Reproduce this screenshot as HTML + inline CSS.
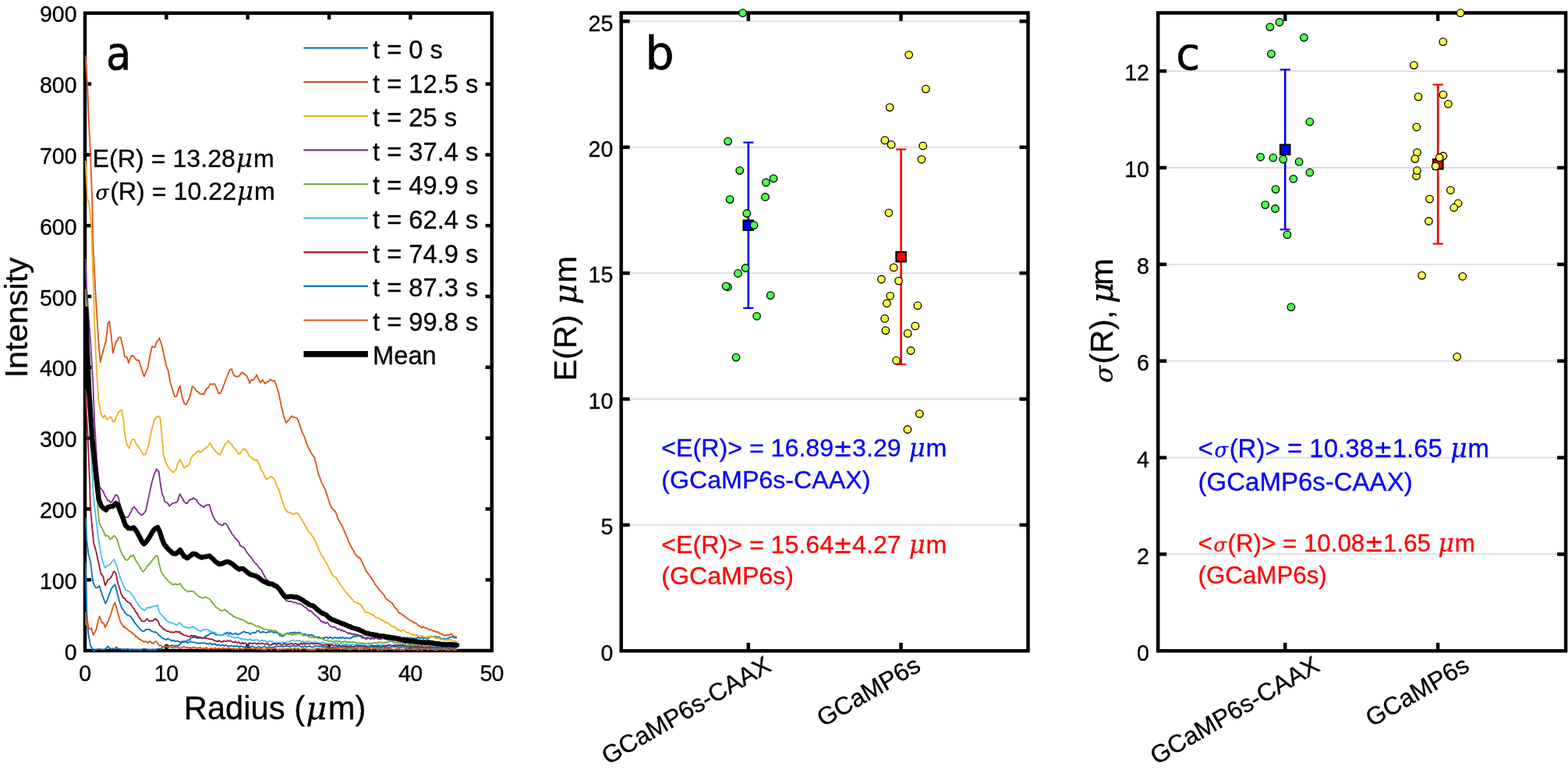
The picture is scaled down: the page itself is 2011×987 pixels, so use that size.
<!DOCTYPE html>
<html lang="en"><head><meta charset="utf-8"><title>Figure</title>
<style>html,body{margin:0;padding:0;background:#fff;}svg{display:block;}</style></head><body>
<svg width="2011" height="987" viewBox="0 0 2011 987" role="img" aria-label="Figure with panels a, b and c">
<rect x="0" y="0" width="2011" height="987" fill="#fff"/>
<g id="panel-a">
<clipPath id="clipA"><rect x="106.8" y="16.8" width="523.8" height="819.7"/></clipPath>
<rect x="109" y="16.8" width="521.8" height="817.2" fill="none" stroke="#000" stroke-width="4.5"/>
<text x="108.7" y="873.2" font-family="'Liberation Sans',sans-serif" font-size="28.6" text-anchor="middle" fill="#000" letter-spacing="-0.8" stroke="#000" stroke-width="0.3">0</text>
<line x1="213.4" y1="834" x2="213.4" y2="825.8" stroke="#000" stroke-width="4.5" stroke-linecap="butt"/>
<line x1="213.4" y1="16.8" x2="213.4" y2="25" stroke="#000" stroke-width="4.5" stroke-linecap="butt"/>
<text x="213.2" y="873.2" font-family="'Liberation Sans',sans-serif" font-size="28.6" text-anchor="middle" fill="#000" letter-spacing="-0.8" stroke="#000" stroke-width="0.3">10</text>
<line x1="317.7" y1="834" x2="317.7" y2="825.8" stroke="#000" stroke-width="4.5" stroke-linecap="butt"/>
<line x1="317.7" y1="16.8" x2="317.7" y2="25" stroke="#000" stroke-width="4.5" stroke-linecap="butt"/>
<text x="317.5" y="873.2" font-family="'Liberation Sans',sans-serif" font-size="28.6" text-anchor="middle" fill="#000" letter-spacing="-0.8" stroke="#000" stroke-width="0.3">20</text>
<line x1="422.1" y1="834" x2="422.1" y2="825.8" stroke="#000" stroke-width="4.5" stroke-linecap="butt"/>
<line x1="422.1" y1="16.8" x2="422.1" y2="25" stroke="#000" stroke-width="4.5" stroke-linecap="butt"/>
<text x="421.9" y="873.2" font-family="'Liberation Sans',sans-serif" font-size="28.6" text-anchor="middle" fill="#000" letter-spacing="-0.8" stroke="#000" stroke-width="0.3">30</text>
<line x1="526.4" y1="834" x2="526.4" y2="825.8" stroke="#000" stroke-width="4.5" stroke-linecap="butt"/>
<line x1="526.4" y1="16.8" x2="526.4" y2="25" stroke="#000" stroke-width="4.5" stroke-linecap="butt"/>
<text x="526.2" y="873.2" font-family="'Liberation Sans',sans-serif" font-size="28.6" text-anchor="middle" fill="#000" letter-spacing="-0.8" stroke="#000" stroke-width="0.3">40</text>
<text x="630.6" y="873.2" font-family="'Liberation Sans',sans-serif" font-size="28.6" text-anchor="middle" fill="#000" letter-spacing="-0.8" stroke="#000" stroke-width="0.3">50</text>
<text x="98.6" y="845.6" font-family="'Liberation Sans',sans-serif" font-size="28.6" text-anchor="end" fill="#000" stroke="#000" stroke-width="0.3">0</text>
<line x1="109" y1="743.2" x2="117.2" y2="743.2" stroke="#000" stroke-width="4.5" stroke-linecap="butt"/>
<line x1="630.8" y1="743.2" x2="622.6" y2="743.2" stroke="#000" stroke-width="4.5" stroke-linecap="butt"/>
<text x="98.6" y="754.8" font-family="'Liberation Sans',sans-serif" font-size="28.6" text-anchor="end" fill="#000" stroke="#000" stroke-width="0.3">100</text>
<line x1="109" y1="652.4" x2="117.2" y2="652.4" stroke="#000" stroke-width="4.5" stroke-linecap="butt"/>
<line x1="630.8" y1="652.4" x2="622.6" y2="652.4" stroke="#000" stroke-width="4.5" stroke-linecap="butt"/>
<text x="98.6" y="664" font-family="'Liberation Sans',sans-serif" font-size="28.6" text-anchor="end" fill="#000" stroke="#000" stroke-width="0.3">200</text>
<line x1="109" y1="561.6" x2="117.2" y2="561.6" stroke="#000" stroke-width="4.5" stroke-linecap="butt"/>
<line x1="630.8" y1="561.6" x2="622.6" y2="561.6" stroke="#000" stroke-width="4.5" stroke-linecap="butt"/>
<text x="98.6" y="573.2" font-family="'Liberation Sans',sans-serif" font-size="28.6" text-anchor="end" fill="#000" stroke="#000" stroke-width="0.3">300</text>
<line x1="109" y1="470.8" x2="117.2" y2="470.8" stroke="#000" stroke-width="4.5" stroke-linecap="butt"/>
<line x1="630.8" y1="470.8" x2="622.6" y2="470.8" stroke="#000" stroke-width="4.5" stroke-linecap="butt"/>
<text x="98.6" y="482.4" font-family="'Liberation Sans',sans-serif" font-size="28.6" text-anchor="end" fill="#000" stroke="#000" stroke-width="0.3">400</text>
<line x1="109" y1="380" x2="117.2" y2="380" stroke="#000" stroke-width="4.5" stroke-linecap="butt"/>
<line x1="630.8" y1="380" x2="622.6" y2="380" stroke="#000" stroke-width="4.5" stroke-linecap="butt"/>
<text x="98.6" y="391.6" font-family="'Liberation Sans',sans-serif" font-size="28.6" text-anchor="end" fill="#000" stroke="#000" stroke-width="0.3">500</text>
<line x1="109" y1="289.2" x2="117.2" y2="289.2" stroke="#000" stroke-width="4.5" stroke-linecap="butt"/>
<line x1="630.8" y1="289.2" x2="622.6" y2="289.2" stroke="#000" stroke-width="4.5" stroke-linecap="butt"/>
<text x="98.6" y="300.8" font-family="'Liberation Sans',sans-serif" font-size="28.6" text-anchor="end" fill="#000" stroke="#000" stroke-width="0.3">600</text>
<line x1="109" y1="198.4" x2="117.2" y2="198.4" stroke="#000" stroke-width="4.5" stroke-linecap="butt"/>
<line x1="630.8" y1="198.4" x2="622.6" y2="198.4" stroke="#000" stroke-width="4.5" stroke-linecap="butt"/>
<text x="98.6" y="210" font-family="'Liberation Sans',sans-serif" font-size="28.6" text-anchor="end" fill="#000" stroke="#000" stroke-width="0.3">700</text>
<line x1="109" y1="107.6" x2="117.2" y2="107.6" stroke="#000" stroke-width="4.5" stroke-linecap="butt"/>
<line x1="630.8" y1="107.6" x2="622.6" y2="107.6" stroke="#000" stroke-width="4.5" stroke-linecap="butt"/>
<text x="98.6" y="119.2" font-family="'Liberation Sans',sans-serif" font-size="28.6" text-anchor="end" fill="#000" stroke="#000" stroke-width="0.3">800</text>
<text x="98.6" y="28.4" font-family="'Liberation Sans',sans-serif" font-size="28.6" text-anchor="end" fill="#000" stroke="#000" stroke-width="0.3">900</text>
<g clip-path="url(#clipA)">
<path d="M109.7,720.9 109.8,722.8 109.8,724.2 109.8,725.4 109.9,727.1 109.9,728.6 109.9,730.2 110.0,731.9 110.0,732.9 110.0,734.3 110.1,736.4 110.1,737.7 110.1,739.4 110.2,740.4 110.2,742.2 110.3,744.0 110.3,745.1 110.3,747.2 110.4,748.6 110.4,749.5 110.4,751.1 110.5,752.9 110.5,754.7 110.5,755.9 110.6,757.3 110.6,758.9 110.6,760.2 110.7,761.8 110.7,763.5 110.7,765.1 110.8,766.4 110.8,767.9 110.9,769.4 110.9,771.1 110.9,772.5 111.0,773.8 111.0,775.9 111.0,777.3 111.1,778.8 111.1,780.0 111.1,781.9 111.2,783.6 111.3,784.5 111.4,786.2 111.5,788.0 111.6,789.5 111.7,791.2 111.8,792.3 111.9,794.2 112.1,795.6 112.2,796.8 112.3,798.5 112.4,800.3 112.5,801.8 112.6,803.0 112.7,804.6 112.8,805.7 112.9,807.4 113.0,809.3 113.1,810.6 113.2,812.0 113.5,813.8 113.8,815.5 114.1,817.1 114.4,818.5 114.7,820.2 115.0,821.9 115.3,823.7 115.6,825.1 115.9,826.7 116.2,828.3 117.2,829.5 118.2,831.2 119.2,833.7 121.0,834.3 122.8,833.1 124.6,832.4 126.3,832.0 128.4,832.2 130.4,832.6 132.4,832.8 134.4,832.4 135.8,831.7 137.1,829.3 138.5,828.4 139.8,830.4 141.2,830.9 142.5,832.0 144.2,831.1 145.8,831.5 147.4,832.1 149.0,829.5 150.6,830.7 152.3,831.5 154.0,832.0 155.7,832.0 157.4,832.5 159.1,832.1 160.8,832.5 162.6,832.3 164.5,831.5 166.3,833.5 168.2,832.8 169.7,832.1 171.2,832.8 172.8,832.9 174.3,832.6 175.8,832.6 177.4,833.1 178.9,833.2 180.5,833.2 182.0,832.7 183.5,831.6 185.1,831.9 186.6,831.7 188.1,832.5 189.7,832.6 191.2,833.0 192.8,833.2 194.3,833.3 195.8,832.1 197.4,833.7 198.9,833.4 200.4,832.6 202.2,831.7 204.0,831.3 205.8,832.4 207.6,830.4 209.4,829.0 211.2,829.5 213.0,828.5 214.8,828.1 216.6,827.6 218.4,828.2 220.2,827.1 222.0,827.4 223.8,828.2 225.6,827.6 227.4,827.3 229.1,827.7 230.3,825.7 231.5,825.1 232.7,824.0 234.5,822.8 236.3,822.0 238.1,822.8 239.5,821.7 240.8,820.4 242.2,820.5 243.5,820.0 244.8,817.9 246.2,817.3 247.5,816.9 248.9,817.2 250.7,816.4 252.5,818.0 254.3,818.1 256.1,817.7 257.8,816.7 259.6,818.3 261.4,817.3 262.8,816.3 264.1,815.0 265.5,815.3 266.8,814.2 268.6,813.1 270.4,811.4 271.9,812.1 273.4,810.9 274.9,811.9 276.4,813.6 277.9,813.8 279.4,813.1 281.2,814.5 283.0,813.7 284.7,814.3 286.5,813.3 288.2,812.0 290.0,811.3 291.8,810.5 293.6,812.7 295.4,810.8 297.2,812.8 299.0,812.7 300.8,812.4 302.6,811.5 304.3,813.3 306.1,813.0 307.6,812.4 309.0,811.4 310.4,810.6 311.9,810.0 313.3,809.5 314.8,810.8 316.2,810.8 317.6,810.9 319.1,811.3 320.5,813.0 322.0,811.8 323.5,811.6 325.0,810.6 326.5,811.3 328.0,810.7 329.5,808.7 331.0,808.7 332.5,809.2 333.9,810.9 335.4,810.6 336.9,809.8 338.4,810.0 339.9,810.6 341.4,810.8 342.9,810.8 344.4,809.2 345.9,810.3 347.4,809.5 349.2,809.7 351.0,811.3 352.8,810.0 354.6,811.3 356.0,811.1 357.4,812.2 358.9,814.7 360.3,814.2 361.7,816.0 363.1,815.1 364.4,814.8 365.8,813.0 367.1,812.3 368.9,811.4 370.7,812.2 372.5,811.1 374.3,810.8 376.1,811.6 377.9,810.3 379.7,811.6 381.5,810.8 383.3,810.7 385.1,811.0 386.9,812.5 388.4,813.1 389.9,813.5 391.3,812.6 392.8,813.6 394.3,814.3 395.8,813.8 397.3,814.4 398.8,814.0 400.3,814.0 401.8,814.8 403.3,816.6 404.8,816.1 406.3,817.4 407.8,816.6 409.3,816.4 410.8,817.9 412.3,818.3 413.8,817.3 415.6,818.2 417.4,816.7 419.1,816.7 420.9,818.5 422.7,816.9 424.5,817.0 426.3,818.9 428.1,817.7 429.9,817.1 431.7,817.8 433.2,817.4 434.7,818.4 436.2,816.6 437.7,818.3 439.2,816.9 440.7,817.5 442.5,818.4 444.3,817.4 446.1,817.7 447.8,818.7 449.3,817.3 450.7,818.0 452.2,816.1 453.6,815.5 455.0,816.6 456.8,815.3 458.6,815.7 460.4,815.1 462.2,815.0 464.0,814.7 465.8,816.5 467.6,817.7 469.4,818.2 471.2,816.8 473.0,817.9 474.8,818.3 476.5,819.1 478.3,817.9 480.1,818.1 481.9,817.7 483.5,817.0 485.0,817.7 486.5,817.2 488.1,817.1 489.6,816.7 491.2,817.3 492.7,818.4 494.2,817.4 495.7,817.6 497.2,817.3 498.7,817.7 500.2,816.1 501.7,815.8 503.2,815.9 504.6,816.1 506.1,817.6 507.6,817.9 509.1,816.8 510.6,817.3 512.4,817.7 514.2,817.8 516.0,817.9 517.8,817.2 519.6,817.3 521.1,817.4 522.6,817.1 524.1,818.4 525.6,817.4 527.1,817.6 528.6,818.9 530.1,818.0 531.6,819.0 533.0,818.1 534.5,818.8 536.0,816.9 537.5,817.5 539.3,818.3 541.1,816.8 542.9,819.0 544.7,817.3 546.5,818.5 548.0,818.9 549.5,818.1 551.0,816.5 552.5,815.6 554.0,816.1 555.5,816.2 557.0,815.6 558.5,817.3 560.0,815.9 561.4,818.1 562.9,816.4 564.4,817.6 566.2,818.9 568.0,818.7 569.8,819.0 571.6,819.0 573.4,818.5 575.2,818.2 577.0,816.6 578.8,816.7 580.6,816.0 582.4,817.3 584.2,817.5 586.0,817.5" fill="none" stroke="#0072BD" stroke-width="1.8" stroke-linejoin="round" stroke-linecap="butt"/>
<path d="M109.5,71.3 109.6,73.0 109.7,73.9 109.8,75.4 109.9,77.5 110.0,78.9 110.1,80.4 110.2,81.6 110.3,83.4 110.4,84.9 110.5,86.4 110.6,87.6 110.7,89.3 110.8,90.8 110.9,92.6 111.0,94.3 111.1,95.8 111.2,97.0 111.3,98.4 111.4,99.8 111.5,101.2 111.6,102.7 111.7,104.5 111.8,105.9 111.9,107.5 112.1,109.4 112.2,110.6 112.2,112.2 112.3,113.5 112.3,114.8 112.4,116.6 112.4,118.0 112.5,119.8 112.6,121.6 112.6,122.9 112.7,124.1 112.7,126.1 112.8,127.6 112.8,129.0 112.9,130.7 113.0,132.1 113.0,133.6 113.1,134.8 113.1,136.8 113.2,138.3 113.3,139.2 113.3,141.2 113.4,142.7 113.4,144.0 113.5,145.6 113.5,147.1 113.6,148.9 113.7,150.1 113.7,151.9 113.8,153.1 113.8,155.0 113.9,156.5 114.0,157.7 114.1,159.3 114.2,161.1 114.2,162.4 114.3,163.8 114.4,165.1 114.5,166.7 114.5,168.5 114.6,169.6 114.7,171.7 114.8,172.7 114.8,174.7 114.9,175.8 115.0,177.8 115.1,179.1 115.1,180.5 115.2,182.0 115.3,183.7 115.4,185.1 115.4,186.4 115.5,187.9 115.6,189.6 115.7,191.5 115.7,192.7 115.8,193.9 115.9,195.9 116.0,197.4 116.1,199.0 116.1,200.0 116.2,201.9 116.3,203.0 116.3,204.9 116.4,206.2 116.4,207.7 116.5,209.6 116.5,210.6 116.6,212.4 116.6,214.2 116.7,215.3 116.7,216.8 116.8,218.8 116.8,219.9 116.9,221.7 116.9,222.7 117.0,224.5 117.1,225.8 117.1,227.7 117.2,228.8 117.2,231.0 117.3,231.8 117.3,233.8 117.4,234.8 117.4,236.5 117.5,238.5 117.5,239.5 117.6,241.0 117.6,242.9 117.7,244.2 117.7,245.5 117.8,247.7 117.9,248.6 117.9,250.0 118.0,251.8 118.0,253.5 118.1,255.1 118.1,256.2 118.2,257.9 118.2,259.3 118.3,261.0 118.3,262.7 118.3,264.2 118.3,265.8 118.4,267.2 118.4,268.8 118.4,270.2 118.5,271.5 118.5,272.9 118.5,274.7 118.6,275.9 118.6,277.3 118.6,279.1 118.6,280.9 118.7,281.8 118.7,283.7 118.7,285.0 118.8,286.6 118.8,287.9 118.8,290.0 118.9,291.0 118.9,292.7 118.9,294.1 118.9,295.3 119.0,297.2 119.0,298.4 119.0,299.9 119.1,301.4 119.1,303.0 119.1,304.4 119.2,306.3 119.2,307.7 119.2,309.6 119.2,310.9 119.3,312.6 119.4,313.6 119.5,315.3 119.5,316.7 119.6,318.4 119.7,320.0 119.8,321.6 119.8,323.1 119.9,324.3 120.0,325.9 120.1,327.5 120.2,328.6 120.2,330.2 120.3,332.0 120.4,333.3 120.5,335.2 120.5,336.4 120.6,337.8 120.7,339.4 120.8,340.9 120.8,342.5 120.9,344.2 121.0,345.7 121.1,347.1 121.1,348.8 121.2,350.0 121.3,352.1 121.4,353.6 121.4,355.0 121.5,356.3 121.6,357.9 121.7,359.4 121.7,360.6 121.8,362.3 121.9,363.9 122.0,365.2 122.1,366.7 122.1,368.7 122.2,369.9 122.3,371.5 122.4,373.4 122.5,374.7 122.6,376.0 122.6,378.0 122.7,379.1 122.8,380.4 122.9,382.4 123.0,383.5 123.1,385.2 123.2,387.1 123.3,388.5 123.4,389.6 123.5,391.4 123.6,392.9 123.7,394.5 123.8,395.9 123.8,397.7 123.9,398.8 124.0,400.5 124.1,402.1 124.2,404.1 124.3,405.0 124.4,407.0 124.5,408.1 124.6,409.9 124.7,411.3 124.8,412.9 124.9,414.7 124.9,415.9 125.0,417.3 125.1,418.8 125.2,420.3 125.3,422.3 125.4,423.8 125.5,425.5 125.7,426.8 125.8,427.9 125.9,429.9 126.0,431.5 126.1,432.9 126.2,434.3 126.3,435.7 126.4,437.3 126.6,439.1 126.7,440.2 126.8,441.9 126.9,443.4 127.0,445.3 127.1,446.7 127.2,448.3 127.3,449.6 127.5,451.0 127.6,452.5 127.8,454.3 127.9,455.7 128.1,457.5 128.2,459.3 128.4,461.0 128.5,462.4 128.7,464.1 129.1,462.2 129.4,460.9 129.8,459.9 130.2,457.8 130.6,456.6 130.9,454.8 131.3,453.4 131.7,452.5 132.1,451.1 132.4,449.4 132.8,447.6 133.2,446.3 133.6,444.7 134.1,443.5 134.5,442.0 135.0,440.3 135.4,438.9 135.9,437.3 136.1,435.9 136.2,434.6 136.4,432.9 136.6,430.9 136.8,429.6 137.0,428.2 137.1,426.3 137.3,425.2 137.5,423.4 137.7,422.0 137.8,420.2 138.0,419.1 138.2,417.4 138.4,415.7 138.6,413.8 140.4,411.9 140.6,413.2 140.7,415.1 140.9,416.9 141.1,418.0 141.3,419.8 141.5,421.3 141.7,422.8 141.9,424.6 142.1,426.3 142.3,427.7 142.5,429.1 142.7,431.0 142.9,432.1 143.0,433.9 143.2,435.5 143.3,437.1 143.5,438.8 143.6,439.9 143.8,441.7 143.9,443.2 144.1,444.9 144.2,446.7 144.4,448.0 144.5,449.2 144.7,451.1 144.8,452.7 145.2,451.4 145.6,449.8 146.0,448.4 146.4,446.3 146.8,445.5 147.2,443.8 147.6,442.3 148.0,441.0 148.4,439.4 149.3,437.2 150.2,436.7 151.1,435.2 152.0,433.1 152.9,432.3 154.7,432.4 155.1,433.8 155.5,435.8 155.9,437.0 156.2,438.9 156.6,440.4 157.0,441.9 157.4,443.7 157.7,445.1 158.0,446.5 158.3,448.5 158.6,449.3 158.9,450.8 159.2,452.6 159.5,454.4 159.8,455.7 160.1,457.4 162.8,458.0 163.3,459.9 163.9,461.5 164.4,463.2 164.9,465.2 165.5,463.3 166.0,461.7 166.5,460.6 167.1,458.6 167.6,457.5 168.2,456.0 170.0,456.0 171.7,456.9 172.6,458.5 173.5,459.9 174.4,460.3 175.3,461.8 178.0,461.6 178.5,463.0 178.9,464.4 179.4,465.6 179.8,467.5 180.3,469.2 180.7,470.3 181.2,471.8 181.6,473.2 182.2,474.8 182.7,476.7 183.2,477.8 183.8,479.6 184.3,481.0 184.8,482.6 185.4,481.5 186.1,479.2 186.7,478.4 187.3,476.4 187.9,475.2 188.5,473.9 189.1,472.2 189.7,470.5 190.0,469.3 190.2,467.2 190.5,466.1 190.8,464.4 191.0,463.0 191.3,461.7 191.6,460.1 191.8,458.5 192.1,456.7 192.4,455.2 192.8,453.7 193.1,452.0 193.5,450.4 193.9,449.3 194.3,447.1 194.7,446.0 195.1,444.1 196.9,444.5 198.7,445.4 199.1,443.6 199.6,442.3 200.0,440.5 200.4,439.2 201.4,437.4 202.4,436.8 203.4,435.3 204.4,433.3 204.9,435.0 205.5,436.8 206.0,437.9 206.5,439.3 207.1,441.0 207.6,442.7 207.9,444.4 208.3,445.6 208.6,447.1 208.9,448.9 209.2,450.0 209.5,451.9 209.8,453.2 210.2,454.5 210.5,456.3 210.8,457.4 211.1,459.3 211.4,460.8 211.7,462.0 212.1,463.6 212.4,465.3 212.7,466.6 213.0,468.0 213.5,469.6 214.1,471.1 214.6,472.4 215.2,474.0 215.7,475.0 216.0,476.7 216.2,478.2 216.5,479.5 216.8,481.1 217.0,482.5 217.3,484.5 217.6,485.6 217.8,487.2 218.1,489.1 218.4,490.2 218.8,492.1 219.3,492.9 219.7,494.3 220.2,496.0 220.6,497.5 221.1,499.3 221.5,500.7 222.0,502.1 222.4,503.3 222.9,504.8 223.3,506.1 223.8,508.1 226.5,508.0 226.9,506.3 227.4,504.9 227.8,503.0 228.3,501.5 228.7,500.3 229.1,498.2 230.0,496.2 230.9,494.7 231.2,496.2 231.5,497.9 231.8,499.4 232.1,501.1 232.4,502.6 232.7,504.2 233.0,506.0 233.3,507.4 233.6,509.1 234.2,511.0 234.7,512.0 235.2,513.7 235.8,515.9 236.3,517.1 239.0,518.6 239.7,516.7 240.3,515.6 240.9,514.4 241.6,512.5 242.2,511.4 242.9,509.8 243.5,508.2 243.9,507.0 244.3,504.9 244.7,503.3 245.1,501.8 245.5,499.9 245.9,498.7 246.3,496.9 246.7,495.2 248.3,496.4 249.8,497.8 251.1,500.0 252.5,501.4 253.8,502.2 255.2,503.3 256.5,504.8 257.8,505.4 259.6,504.8 261.4,505.8 262.1,503.6 262.8,502.8 263.5,501.0 264.1,499.7 265.5,497.5 266.8,497.4 267.6,496.5 268.4,494.2 269.2,493.0 270.0,492.0 272.2,493.0 273.8,492.0 275.4,492.4 276.1,493.3 276.9,495.7 277.6,496.7 278.1,497.8 278.7,500.0 279.2,501.0 279.7,502.7 280.3,504.4 283.0,503.6 283.6,502.3 284.2,500.4 284.8,499.0 285.4,498.2 285.9,496.6 286.5,494.8 287.1,493.5 287.7,492.1 288.3,490.0 288.9,488.8 289.5,487.0 290.1,485.7 290.7,484.0 291.3,482.5 291.8,480.9 292.4,479.5 292.9,478.1 293.5,476.8 294.1,475.5 294.6,474.1 297.0,473.0 297.5,474.6 298.0,476.5 298.6,477.6 299.1,479.2 300.3,481.2 301.5,482.0 302.7,482.6 304.5,482.5 306.3,482.5 307.4,481.1 308.5,479.6 309.6,478.1 310.8,477.1 312.3,478.7 313.8,479.6 315.2,480.8 316.6,482.3 317.9,484.5 318.5,486.5 319.1,487.6 319.7,489.7 320.3,491.3 321.0,489.9 321.7,487.7 322.4,486.8 325.1,487.1 325.9,485.5 326.7,484.6 327.5,483.3 328.3,482.0 329.1,480.6 329.8,482.4 330.6,484.0 331.4,485.6 332.3,487.7 333.2,489.2 334.1,490.6 335.4,488.9 336.8,487.0 337.7,488.3 338.6,489.6 339.5,491.7 341.3,490.6 343.0,489.2 344.2,489.0 345.4,487.8 346.6,486.2 348.0,487.1 349.3,488.3 352.0,487.8 352.9,490.4 353.8,492.2 354.3,493.4 354.7,495.3 355.2,496.5 355.6,497.9 356.1,499.3 356.5,501.0 357.0,502.3 357.4,503.8 357.7,505.0 358.0,506.9 358.3,508.1 358.6,510.0 358.9,511.0 359.2,512.6 359.5,514.3 359.8,515.6 360.1,517.2 360.4,519.0 360.7,520.0 361.0,521.8 361.4,523.4 361.8,525.1 362.2,526.4 362.6,528.0 363.0,529.6 363.4,531.3 363.8,532.7 364.2,534.2 364.6,536.0 365.2,537.3 365.7,539.0 366.3,540.6 366.9,541.8 368.2,540.1 369.5,539.4 370.9,538.1 371.9,535.9 373.0,534.8 374.1,533.2 375.6,534.6 377.1,534.8 379.8,535.4 381.2,536.7 382.5,538.9 383.0,540.1 383.4,541.4 383.9,543.5 384.3,544.5 384.8,546.1 385.2,547.6 385.1,546.5 385.6,548.4 386.1,549.7 386.7,551.4 387.2,553.0 387.8,554.9 388.4,555.5 389.1,557.5 389.8,558.3 390.4,560.0 391.0,561.8 391.5,563.2 392.1,564.6 392.6,566.6 393.1,568.4 393.9,569.9 394.6,571.4 395.3,573.3 396.0,575.0 396.7,576.0 397.6,577.6 398.5,579.9 399.4,581.4 400.3,582.3 401.3,584.0 402.3,585.5 403.4,586.1 403.8,587.9 404.1,589.4 404.5,590.8 404.9,592.5 405.3,594.0 405.7,596.0 406.1,597.4 406.5,599.4 406.8,600.9 407.2,602.6 407.6,604.6 408.0,605.9 408.4,607.6 408.9,609.0 409.5,610.3 410.0,611.7 410.5,613.4 411.1,614.9 411.7,616.0 412.4,618.4 413.1,619.7 413.8,620.8 414.5,622.7 415.2,623.8 415.9,625.4 416.6,626.4 417.4,628.3 417.9,629.9 418.4,631.7 419.0,633.2 419.5,634.9 420.0,636.4 420.5,637.6 420.9,639.0 421.4,640.8 421.8,642.0 422.3,643.5 422.7,645.2 423.5,646.8 424.2,648.3 424.9,649.8 425.6,651.5 426.3,652.1 428.1,653.9 429.9,655.0 430.5,656.9 431.1,658.4 431.7,659.8 432.3,661.6 432.9,663.5 433.5,665.0 434.3,666.9 435.0,667.5 435.8,668.8 436.6,670.9 437.3,671.8 438.1,672.5 438.9,674.5 439.5,675.6 440.1,677.6 440.7,678.7 441.3,680.2 441.9,681.7 442.5,682.7 443.1,684.6 443.7,685.1 444.3,686.8 444.9,688.6 445.5,689.2 446.1,691.3 446.7,693.0 447.2,694.1 447.8,695.6 448.4,696.3 449.0,698.1 449.6,699.5 450.4,700.8 451.2,702.2 452.0,704.0 452.8,704.6 453.6,705.9 454.4,707.9 455.2,709.8 456.0,711.0 456.8,712.2 458.1,712.7 459.3,714.9 460.6,714.4 461.8,715.9 463.1,717.5 463.7,719.2 464.3,720.2 465.0,722.1 465.6,722.8 466.2,724.7 466.9,725.6 467.5,727.2 468.1,728.6 468.7,729.8 469.4,731.7 470.3,733.0 471.2,733.9 472.1,735.7 473.0,736.0 473.9,737.9 474.8,739.2 475.7,740.2 476.5,741.9 477.4,742.5 478.3,744.2 479.2,745.6 480.1,746.8 481.0,749.0 481.9,749.8 482.8,751.1 483.7,752.3 484.8,753.5 485.9,755.6 487.0,756.6 488.0,757.6 489.1,758.4 490.0,760.0 490.9,760.6 491.8,762.1 492.7,762.9 493.6,765.1 494.5,766.7 495.4,767.5 496.3,768.6 497.5,768.9 498.8,770.2 500.0,771.1 501.3,772.0 502.6,772.8 503.6,773.9 504.6,776.1 505.6,777.7 506.6,778.8 507.6,779.9 508.6,780.4 509.6,782.1 510.6,784.1 512.1,785.8 513.5,786.0 514.9,787.1 516.4,788.4 517.8,788.9 519.2,790.6 520.7,791.0 522.1,793.0 523.5,793.4 525.0,794.7 526.4,795.4 527.8,796.0 529.3,796.6 530.7,798.4 532.2,798.4 533.6,799.0 535.0,800.1 536.5,801.9 537.9,802.6 539.3,803.3 541.1,804.7 542.9,803.1 544.7,804.7 546.5,805.1 547.9,805.3 549.4,807.0 550.8,807.5 552.2,806.7 553.7,807.6 555.1,808.6 556.5,809.0 558.0,808.9 559.4,810.4 560.9,810.1 562.3,810.1 563.7,811.9 565.2,812.5 566.6,812.6 568.0,813.4 569.8,814.7 571.6,814.5 573.4,813.8 575.2,814.5 577.0,813.3 578.8,812.7 580.2,813.9 581.7,814.9 583.1,815.8 584.5,816.1 586.0,816.4" fill="none" stroke="#D95319" stroke-width="1.8" stroke-linejoin="round" stroke-linecap="butt"/>
<path d="M109.5,205.7 109.6,207.4 109.7,208.8 109.8,210.5 109.8,212.0 109.9,213.1 110.0,214.6 110.1,216.7 110.2,217.8 110.3,219.3 110.3,221.4 110.4,222.5 110.5,224.3 110.6,225.6 110.7,227.2 110.8,228.4 110.8,230.2 110.9,231.9 111.0,233.2 111.1,234.9 111.2,236.3 111.2,237.4 111.3,239.4 111.4,240.8 111.5,242.1 111.6,243.5 111.7,245.6 111.7,246.8 111.8,248.5 111.9,250.1 112.0,251.5 112.1,253.2 112.2,254.4 112.7,256.1 113.2,257.2 113.7,259.1 114.2,260.3 114.3,261.4 114.5,262.9 114.6,264.5 114.8,266.5 114.9,267.7 115.1,269.3 115.2,270.6 115.4,272.3 115.5,273.7 115.7,275.2 115.8,276.9 116.0,278.4 116.2,280.2 116.3,281.5 116.5,283.2 116.6,284.7 116.8,286.3 116.9,287.6 117.1,288.7 117.2,290.6 117.3,292.4 117.3,293.8 117.4,295.1 117.4,296.7 117.5,297.9 117.5,299.9 117.6,301.2 117.6,302.5 117.7,303.9 117.7,306.0 117.8,307.6 117.8,308.4 117.9,310.5 117.9,311.7 118.0,313.0 118.0,314.7 118.1,316.5 118.1,318.1 118.2,319.0 118.2,321.0 118.3,322.1 118.3,324.1 118.4,325.3 118.4,327.2 118.5,328.8 118.5,330.0 118.6,331.9 118.6,332.9 118.7,334.3 118.7,336.1 118.8,337.3 118.8,338.9 118.9,340.6 118.9,342.2 119.0,343.4 119.0,344.9 119.1,347.0 119.1,348.1 119.2,350.1 119.2,351.4 119.3,352.7 119.3,354.3 119.4,355.8 119.4,357.4 119.5,358.9 119.5,360.4 119.6,362.0 119.6,363.7 119.7,364.9 119.7,366.4 119.8,368.1 119.8,369.3 119.9,370.9 119.9,372.9 120.0,374.1 120.1,375.6 120.1,376.7 120.2,378.5 120.2,380.2 120.3,381.3 120.3,383.2 120.4,384.8 120.4,385.9 120.5,387.8 120.5,389.2 120.6,390.9 120.6,392.2 120.7,393.9 120.7,395.5 120.8,396.5 120.8,398.0 120.9,400.0 120.9,401.7 121.0,402.7 121.0,404.4 121.1,406.0 121.1,407.3 121.2,408.9 121.2,410.4 121.3,412.0 121.3,413.6 121.4,414.9 121.4,416.5 121.5,418.3 121.5,419.3 121.6,421.2 121.7,422.9 121.7,424.1 121.8,425.5 121.8,427.5 121.9,428.6 121.9,430.1 122.0,431.8 122.1,433.5 122.1,434.6 122.2,436.3 122.2,437.8 122.3,439.7 122.3,440.9 122.4,442.8 122.5,443.8 122.5,445.4 122.6,447.2 122.6,448.9 122.7,450.1 122.8,451.4 122.8,452.9 122.9,454.7 123.0,456.0 123.1,457.9 123.2,459.5 123.3,460.5 123.3,462.1 123.4,464.0 123.5,465.4 123.6,467.1 123.7,468.2 123.7,469.6 123.8,471.2 123.9,473.1 124.0,474.3 124.1,475.8 124.1,477.4 124.2,478.9 124.3,480.5 124.4,482.4 124.5,483.3 124.6,484.8 124.7,487.0 124.8,488.5 124.9,490.1 125.0,491.3 125.1,493.2 125.2,494.7 125.3,495.7 125.4,497.7 125.5,499.3 125.6,500.7 125.7,502.1 125.8,503.5 125.8,505.1 125.9,506.5 126.0,508.0 126.1,509.9 126.2,511.2 126.3,513.0 126.6,514.1 126.9,516.2 127.1,517.6 127.4,519.3 127.7,520.8 128.0,522.3 128.2,523.6 128.5,524.7 128.8,526.7 129.1,527.8 129.3,529.5 129.6,531.2 130.5,532.5 131.4,533.8 132.3,535.6 133.4,533.9 134.4,532.1 135.2,533.8 136.0,536.1 136.8,537.6 138.6,537.3 140.4,535.6 142.2,534.2 142.8,535.8 143.5,537.5 144.2,538.3 144.8,540.4 147.0,540.4 147.5,539.1 148.1,537.7 148.6,535.5 149.1,534.6 149.7,533.4 150.2,531.4 151.1,529.9 152.0,528.4 152.9,527.2 154.4,526.4 156.0,525.9 156.3,527.6 156.5,528.6 156.8,530.1 157.1,531.7 157.4,533.2 157.7,534.6 158.0,536.8 158.3,538.1 158.4,539.2 158.6,541.0 158.7,542.4 158.8,543.9 159.0,545.4 159.1,547.1 159.3,548.6 159.4,550.0 159.5,551.4 159.7,553.0 159.8,554.4 160.0,556.2 160.1,557.7 160.5,559.2 160.9,560.7 161.2,562.4 161.6,564.2 162.0,566.1 162.4,567.9 162.8,569.3 163.5,571.0 164.1,572.1 164.8,573.3 165.5,574.7 166.0,573.2 166.5,571.8 167.0,570.0 167.5,568.7 168.0,567.0 168.5,565.3 169.1,564.0 171.7,562.8 172.4,563.7 173.1,565.5 173.8,566.9 174.4,568.7 175.6,570.6 176.8,571.2 178.0,573.2 178.9,574.8 179.8,575.8 180.7,577.6 181.6,578.9 182.5,580.9 183.4,582.0 184.3,583.5 185.7,582.8 187.0,581.4 187.5,580.1 188.0,578.5 188.5,576.6 189.0,575.6 189.6,573.6 190.1,572.3 190.6,571.2 190.9,569.2 191.2,567.7 191.5,566.1 191.8,565.1 192.1,563.0 192.4,561.4 192.7,560.4 193.0,558.3 193.3,557.2 193.6,555.6 193.9,554.1 194.2,552.4 194.6,550.8 195.0,549.5 195.4,547.5 195.8,546.5 196.2,544.8 196.6,543.5 197.0,541.5 197.4,540.5 197.8,539.1 199.1,536.4 200.4,535.1 201.8,534.3 203.1,533.3 204.3,534.2 205.5,536.0 205.6,537.5 205.8,539.3 205.9,541.0 206.0,542.3 206.2,543.8 206.3,545.4 206.5,546.9 206.6,548.5 206.8,549.8 206.9,551.7 207.0,553.6 207.2,554.7 207.3,556.5 207.5,557.7 207.6,559.5 207.8,561.2 207.9,562.7 208.1,564.1 208.2,565.7 208.3,567.3 208.5,569.1 208.6,570.1 208.8,571.6 208.9,573.6 209.1,575.3 209.2,576.6 209.3,578.1 209.5,579.8 209.6,581.0 209.8,582.7 210.2,584.1 210.7,585.9 211.2,587.3 211.6,588.7 212.1,590.6 212.5,592.3 213.0,593.4 213.9,595.4 214.8,596.6 215.7,598.7 216.6,599.9 217.9,601.3 219.3,603.2 220.6,603.7 222.0,605.7 223.2,604.5 224.4,603.0 225.6,602.5 226.0,600.9 226.5,599.7 226.9,597.8 227.4,596.9 227.8,595.0 228.3,593.6 229.1,591.9 230.0,590.7 230.9,588.9 231.6,590.2 232.3,591.6 233.0,593.2 233.6,594.6 234.3,595.7 235.0,597.4 235.7,599.0 236.3,599.8 237.7,598.4 239.0,597.8 240.8,597.1 242.6,595.4 243.1,594.1 243.7,592.4 244.2,590.3 244.8,588.6 245.3,587.1 246.2,585.4 247.1,584.5 248.0,583.1 249.8,582.2 251.6,579.9 252.9,579.6 254.3,577.6 255.6,578.5 257.0,579.8 259.6,577.9 261.0,576.3 262.3,575.9 264.1,573.9 265.9,572.8 266.8,571.8 267.7,570.7 268.6,568.6 269.5,568.0 270.4,569.6 271.3,571.3 272.2,572.7 273.5,574.8 274.9,576.8 276.1,577.8 277.3,579.6 278.5,580.6 280.3,581.6 282.1,583.2 282.7,581.3 283.4,580.7 284.1,579.3 284.8,577.2 285.5,576.3 286.2,574.3 286.9,573.2 287.6,571.6 288.3,569.7 289.5,569.0 290.6,567.8 291.7,566.9 292.8,565.0 294.0,566.7 295.2,568.2 296.4,568.5 297.3,570.1 298.2,571.3 299.1,573.4 300.3,574.2 301.5,575.9 302.7,576.6 303.6,578.2 304.5,579.4 305.4,581.5 308.1,581.4 309.0,579.4 309.9,578.6 310.8,576.7 313.5,574.9 314.6,577.3 315.8,577.3 317.0,579.1 317.7,580.8 318.4,582.0 319.1,583.3 319.7,584.7 320.9,585.6 322.1,586.4 323.3,587.5 324.7,587.8 326.0,589.9 327.8,589.9 329.6,589.1 330.3,590.9 330.9,592.1 331.6,593.5 332.3,595.3 332.8,597.1 333.4,597.8 333.9,599.6 334.4,600.9 335.0,602.7 336.3,604.1 337.7,606.0 338.3,607.6 339.0,609.3 339.7,611.1 340.4,612.3 341.4,614.1 342.5,614.3 344.1,613.1 345.7,611.9 348.4,610.8 349.8,612.7 351.1,613.4 351.8,614.6 352.6,616.2 353.3,618.0 354.0,620.0 354.7,621.5 355.4,623.2 356.1,624.7 356.9,625.8 357.6,627.7 358.3,629.3 358.7,631.0 359.2,632.6 359.6,633.9 360.1,635.5 360.5,637.5 361.0,638.5 361.4,640.6 361.9,642.1 362.5,644.0 363.1,645.2 363.7,646.9 364.3,648.6 364.9,650.3 365.5,652.1 366.4,653.6 367.3,654.7 369.1,656.6 370.9,656.7 373.5,657.9 375.3,658.9 377.1,658.5 378.5,658.7 379.8,657.4 382.5,658.5 383.4,660.2 384.3,661.8 385.2,663.3 386.1,664.9 387.0,665.6 387.9,667.5 388.8,669.0 389.7,670.4 390.6,672.1 391.5,674.1 392.4,675.4 393.1,676.2 393.8,678.3 394.5,679.6 395.2,680.4 396.0,682.2 397.6,683.1 398.7,684.1 399.8,686.2 400.9,688.2 401.9,688.8 403.0,690.7 403.6,692.2 404.3,693.1 404.9,695.3 405.6,696.5 406.2,698.3 406.8,699.5 407.5,701.0 408.1,702.1 408.8,704.0 409.4,705.6 410.1,707.0 410.7,708.1 411.3,709.9 412.0,711.1 412.8,711.9 413.6,713.1 414.4,714.5 415.2,715.9 416.0,717.2 416.8,718.9 417.6,720.4 418.4,721.5 419.1,722.7 419.9,724.4 420.6,725.4 421.3,727.0 422.0,728.8 422.7,729.8 423.5,731.0 424.2,733.3 424.9,734.5 425.6,735.6 426.3,737.0 427.7,738.3 429.0,739.6 430.4,740.0 431.7,741.3 432.5,742.5 433.3,744.6 434.1,745.1 434.9,746.7 435.7,747.7 436.5,749.0 437.3,750.3 438.1,751.9 438.9,753.0 439.9,753.8 440.9,755.3 442.0,756.6 443.0,758.4 444.0,759.0 445.0,760.2 446.1,762.2 447.2,763.3 448.3,765.0 449.4,765.2 450.5,767.0 451.7,768.2 452.8,768.9 453.9,771.6 455.0,771.8 456.5,771.7 457.9,773.1 459.3,773.0 460.8,774.5 462.2,774.7 463.1,775.6 464.0,776.8 464.9,779.0 465.8,779.7 466.7,781.7 467.6,782.6 468.5,784.5 469.4,785.0 471.2,785.0 473.0,785.5 474.8,786.8 476.2,787.6 477.6,787.9 479.1,788.3 480.5,790.4 481.9,791.4 483.4,792.0 484.8,791.7 486.2,792.7 487.7,793.7 489.1,795.1 490.6,795.0 492.1,795.6 493.6,797.6 495.1,798.7 496.6,797.7 498.1,799.5 499.5,799.9 500.9,801.4 502.4,802.6 503.8,803.5 505.2,803.0 506.7,804.1 508.1,805.7 509.6,807.4 511.0,806.7 512.4,808.3 514.2,809.4 516.0,807.6 517.8,808.4 519.3,808.7 520.8,810.1 522.3,811.3 523.8,810.2 525.3,812.0 526.8,812.4 528.3,813.3 529.8,813.1 531.3,814.3 532.8,813.5 534.2,814.0 535.7,814.3 537.2,815.5 538.7,815.1 540.2,814.8 541.7,814.8 543.2,816.3 544.7,816.2 546.5,816.6 548.3,815.8 550.1,816.0 551.9,815.7 553.7,817.0 555.5,815.8 557.3,817.3 559.1,818.2 560.6,818.5 562.0,817.4 563.5,817.9 565.0,819.6 566.5,819.4 568.0,819.7 569.5,820.4 571.0,819.6 572.5,820.9 574.0,820.7 575.5,819.9 577.0,820.4 578.5,819.9 580.0,821.1 581.5,822.8 583.0,821.2 584.5,822.6 586.0,822.9" fill="none" stroke="#EDB120" stroke-width="1.8" stroke-linejoin="round" stroke-linecap="butt"/>
<path d="M109.5,331.9 109.6,333.3 109.6,335.0 109.7,336.3 109.8,337.8 109.8,339.5 109.9,341.4 110.0,342.9 110.0,344.4 110.1,345.5 110.1,347.2 110.2,348.6 110.3,350.0 110.3,351.5 110.4,353.1 110.5,355.1 110.5,356.6 110.6,358.1 110.6,359.6 110.7,360.7 110.8,362.3 110.8,364.0 110.9,365.6 111.0,367.2 111.0,368.8 111.1,369.7 111.1,371.6 111.3,373.1 111.4,374.5 111.5,375.8 111.6,377.5 111.7,378.7 111.8,380.8 111.9,382.3 112.0,383.6 112.2,384.9 112.3,386.8 112.4,388.1 112.5,389.8 112.6,391.3 112.7,392.5 112.8,394.0 112.9,395.6 113.1,397.0 113.2,398.3 113.3,399.9 113.4,401.7 113.5,402.7 113.6,404.2 113.7,406.1 113.8,407.4 114.0,409.0 114.1,410.5 114.2,412.0 114.3,413.9 114.4,414.9 114.5,416.6 114.6,418.0 114.7,419.9 114.9,421.2 115.0,422.8 115.1,424.6 115.2,425.9 115.3,427.6 115.4,429.4 115.5,430.4 115.6,431.9 115.8,433.6 115.9,435.5 116.0,437.0 116.1,438.3 116.2,439.9 116.3,441.3 116.4,443.0 116.5,444.3 116.6,446.3 116.7,448.0 116.8,449.5 116.8,450.9 116.9,452.6 117.0,453.5 117.1,455.2 117.2,457.2 117.3,458.6 117.4,459.9 117.5,461.8 117.6,463.1 117.7,464.8 117.8,465.9 117.9,467.4 118.0,469.1 118.0,470.4 118.1,472.1 118.2,474.1 118.3,475.2 118.4,476.5 118.5,478.0 118.6,479.7 118.7,481.6 118.8,482.9 118.9,484.3 119.0,485.7 119.1,487.9 119.1,489.0 119.2,490.5 119.3,491.8 119.4,493.4 119.4,495.0 119.5,496.9 119.5,498.1 119.6,499.5 119.7,501.4 119.7,502.7 119.8,504.8 119.9,505.7 119.9,507.5 120.0,509.2 120.0,510.5 120.1,512.5 120.2,513.6 120.2,515.0 120.3,516.7 120.3,517.9 120.4,519.7 120.5,521.1 120.5,523.1 120.6,524.6 120.7,525.9 120.7,527.1 120.8,528.8 120.8,530.3 120.9,531.8 121.0,533.4 121.0,535.4 121.1,536.4 121.1,537.9 121.2,540.0 121.3,541.3 121.4,543.2 121.4,544.3 121.5,546.2 121.6,547.5 121.7,549.1 121.8,550.6 121.9,552.0 122.0,553.2 122.1,554.9 122.2,556.9 122.3,558.4 122.4,560.0 122.5,561.1 122.6,562.9 122.6,564.5 122.7,565.9 122.8,567.6 122.9,568.9 123.0,570.5 123.1,572.1 123.2,573.3 123.3,575.3 123.4,576.9 123.5,577.8 123.6,580.0 123.7,581.5 123.8,582.8 123.8,583.9 123.9,586.0 124.0,587.0 124.1,589.2 124.2,590.5 124.3,591.7 124.5,593.2 124.6,595.0 124.8,596.5 124.9,598.2 125.1,599.8 125.2,600.8 125.4,602.2 125.5,604.4 125.7,605.2 125.8,607.4 126.0,608.3 126.1,610.3 126.3,611.8 126.4,613.4 126.6,614.7 126.7,616.5 126.9,617.5 127.0,619.4 127.2,620.6 127.3,622.4 127.8,624.2 129.1,625.8 130.5,627.6 131.4,628.5 132.3,630.0 133.2,632.2 133.9,633.4 134.5,635.2 135.2,636.3 135.9,637.3 136.8,638.8 137.7,640.8 138.6,642.0 140.1,641.5 141.6,643.9 143.0,644.0 143.9,641.8 144.8,640.8 145.7,639.2 146.6,638.0 147.5,635.8 148.4,634.1 151.1,635.7 151.6,637.7 152.0,638.7 152.5,640.4 152.9,642.4 153.4,644.2 153.8,645.6 154.3,647.0 154.7,648.8 155.2,650.2 155.6,651.2 156.1,653.3 156.5,654.4 157.0,655.8 157.6,657.7 158.1,658.8 158.7,660.5 159.2,661.3 161.9,663.4 164.6,662.4 165.2,660.9 165.9,659.9 166.6,658.4 167.3,657.2 167.9,656.3 168.6,654.8 169.3,652.7 170.0,651.7 171.0,650.7 172.1,649.5 173.3,651.4 174.4,652.7 175.3,653.5 176.2,655.0 177.1,657.0 178.6,657.5 180.1,659.4 181.6,660.4 183.0,659.3 184.3,658.2 185.7,656.5 187.0,654.5 187.3,653.3 187.7,651.4 188.0,650.1 188.3,648.1 188.7,646.9 189.0,645.3 189.3,643.6 189.7,642.0 190.0,640.1 190.4,639.0 190.7,637.2 191.0,635.8 191.4,633.9 191.7,632.3 192.0,630.7 192.4,629.5 192.7,627.6 193.0,626.6 193.4,624.6 193.7,623.2 194.1,621.5 194.4,620.1 194.7,618.1 195.1,616.8 195.5,615.7 196.0,613.6 196.4,612.5 196.9,610.8 197.3,609.2 197.8,607.7 198.5,605.7 199.3,604.9 200.0,603.1 200.8,601.3 202.2,603.2 203.7,604.5 203.9,605.7 204.1,607.6 204.3,609.1 204.5,610.8 204.8,612.7 205.0,614.2 205.2,615.9 205.4,616.9 205.6,618.9 205.8,620.5 206.1,622.2 206.3,623.6 206.6,625.3 206.9,626.5 207.1,628.4 207.4,629.6 207.6,631.2 208.1,633.0 208.6,634.4 209.2,635.7 209.7,637.2 210.2,638.8 210.7,640.5 211.2,642.4 213.0,644.1 214.8,644.6 215.7,645.9 216.6,647.8 217.5,648.6 218.8,647.5 220.2,645.9 222.0,644.9 223.8,644.7 225.6,644.2 227.4,642.9 228.0,641.1 228.6,640.0 229.1,638.0 229.7,636.0 230.3,634.3 230.9,633.3 231.6,634.9 232.3,636.1 233.0,637.2 233.6,638.3 234.5,639.6 235.4,641.5 236.3,643.1 238.1,645.0 239.9,645.0 241.1,643.9 242.3,641.7 243.5,640.8 245.0,639.8 246.5,640.2 248.0,638.0 249.8,639.9 251.6,640.3 252.5,641.7 253.4,643.7 254.3,644.5 255.5,646.1 256.7,646.9 257.8,648.4 259.6,648.7 261.4,650.4 262.6,648.8 263.8,647.6 265.0,647.9 266.8,646.7 268.6,647.1 269.1,648.7 269.5,650.3 270.0,651.8 270.4,653.5 270.9,655.0 271.3,656.4 271.8,657.8 272.4,659.4 272.9,660.8 273.5,662.1 274.0,663.5 274.9,664.4 275.8,666.6 276.7,667.5 277.6,668.5 278.8,669.4 280.0,671.7 281.2,671.8 283.0,672.5 284.8,673.5 286.1,672.9 287.4,670.8 290.1,671.5 291.0,673.0 291.9,674.0 292.8,676.5 293.7,677.3 294.6,679.7 295.5,680.3 296.4,681.9 297.3,684.1 298.2,685.6 299.1,686.0 300.0,687.7 300.9,688.8 301.8,690.3 303.3,690.9 304.8,693.4 306.3,694.3 306.9,696.0 307.5,698.0 308.1,699.9 309.6,699.8 311.1,701.4 312.6,701.5 313.5,702.8 314.3,703.6 315.2,705.7 316.1,707.5 317.0,708.3 318.2,710.0 319.3,711.7 320.4,712.6 321.5,713.5 322.4,715.3 323.3,716.0 324.2,718.1 325.1,719.1 326.0,719.9 327.1,721.9 328.3,722.7 329.4,723.5 330.5,725.2 331.6,726.8 332.7,728.1 333.9,729.3 335.0,730.0 335.7,731.5 336.3,732.8 337.0,734.0 337.7,735.9 338.3,736.5 339.0,737.6 339.7,739.6 340.4,740.7 341.7,742.4 343.0,744.0 344.4,744.5 345.7,745.5 347.1,746.3 348.4,748.7 349.8,750.0 351.1,750.4 352.3,750.6 353.5,753.2 354.7,754.0 355.9,754.4 357.1,754.6 358.3,756.7 359.1,758.1 359.8,759.6 360.6,760.3 361.4,762.6 362.1,763.3 362.9,765.2 363.7,766.4 365.5,767.8 367.3,769.9 369.1,770.5 370.9,771.1 372.6,770.6 374.4,771.2 376.2,772.3 378.0,772.1 379.8,772.6 381.6,774.0 383.4,773.3 384.8,774.6 386.1,774.2 387.4,775.8 388.8,776.5 390.1,777.8 391.5,778.5 392.8,779.3 394.2,780.6 395.5,782.6 396.9,783.3 398.2,782.6 399.6,784.0 400.6,784.7 401.7,786.1 402.8,787.6 403.9,787.8 404.9,789.2 406.0,789.8 407.1,791.3 408.2,791.6 409.2,793.1 410.3,794.3 411.5,796.3 412.7,796.0 413.9,798.1 415.7,796.9 417.5,799.2 419.3,797.8 420.4,798.6 421.6,800.0 422.7,802.2 424.2,802.7 425.7,803.9 427.2,803.7 428.7,803.5 430.2,804.6 431.7,805.6 433.2,807.3 434.7,806.0 436.2,806.7 437.7,808.6 439.2,807.5 440.7,809.4 442.2,809.0 443.7,810.2 445.2,811.0 446.7,812.2 448.1,810.9 449.6,812.9 451.1,812.0 452.6,813.6 454.1,812.3 455.6,814.3 457.1,813.2 458.6,813.9 460.0,813.9 461.5,815.2 462.9,815.8 464.3,817.9 465.8,817.6 467.6,817.6 469.4,819.5 471.2,818.4 473.0,817.7 474.8,819.0 476.5,818.0 478.3,818.1 480.1,819.0 481.9,817.0 483.7,818.7 485.2,818.9 486.7,819.0 488.2,819.6 489.7,818.0 491.2,818.4 492.7,818.9 494.3,819.5 495.8,819.9 497.4,820.2 499.0,820.0 500.5,821.2 502.1,821.7 503.7,821.8 505.2,820.9 506.7,820.8 508.2,821.2 509.7,821.5 511.2,822.5 512.7,821.8 514.2,823.1 515.7,822.6 517.2,822.9 518.7,823.9 520.2,824.7 521.7,823.2 523.2,823.9 524.7,825.4 526.2,823.7 527.7,823.4 529.2,824.0 530.7,825.7 532.2,825.6 533.6,826.2 535.1,825.3 536.6,824.4 538.1,825.2 539.6,826.3 541.1,825.8 542.8,825.2 544.4,825.8 546.0,826.2 547.6,826.0 549.3,826.4 550.9,825.7 552.5,825.6 554.2,827.5 555.8,827.5 557.4,826.9 559.1,826.7 560.6,826.7 562.2,827.4 563.8,828.3 565.4,827.4 567.0,828.6 568.6,827.6 570.1,826.9 571.7,828.0 573.3,828.0 574.9,828.0 576.5,828.4 578.1,826.8 579.6,827.8 581.2,828.8 582.8,827.3 584.4,827.1 586.0,828.3" fill="none" stroke="#7E2F8E" stroke-width="1.8" stroke-linejoin="round" stroke-linecap="butt"/>
<path d="M109.5,370.6 109.6,372.2 109.6,373.8 109.7,375.4 109.7,376.8 109.7,378.4 109.8,379.3 109.8,381.1 109.9,383.0 109.9,384.3 110.0,386.0 110.0,387.0 110.1,388.7 110.1,390.1 110.1,391.8 110.2,393.4 110.2,394.5 110.3,396.2 110.3,397.7 110.4,399.7 110.4,401.1 110.5,402.2 110.5,404.2 110.5,405.2 110.6,407.1 110.6,408.3 110.7,409.7 110.7,411.8 110.8,412.9 110.8,414.4 110.9,416.5 110.9,417.9 110.9,419.0 111.0,421.0 111.0,422.3 111.1,423.9 111.1,425.1 111.2,427.1 111.2,428.4 111.3,430.2 111.3,431.6 111.3,432.7 111.4,434.3 111.4,435.7 111.5,437.2 111.5,438.6 111.6,440.3 111.6,442.1 111.7,443.2 111.7,445.2 111.8,446.4 111.8,447.9 111.8,449.8 111.9,451.1 111.9,452.5 112.0,454.2 112.0,455.8 112.1,456.9 112.1,459.1 112.2,460.1 112.2,461.9 112.3,463.5 112.4,464.4 112.5,466.5 112.5,467.7 112.6,469.3 112.7,470.4 112.8,471.9 112.8,473.5 112.9,475.6 113.0,476.5 113.1,478.4 113.1,480.1 113.2,481.6 113.3,482.6 113.4,484.2 113.4,485.8 113.5,487.5 113.6,488.5 113.7,490.4 113.7,492.0 113.8,493.5 113.9,494.4 114.0,496.6 114.0,497.5 114.1,499.1 114.2,500.8 114.3,502.6 114.3,503.6 114.4,505.6 114.5,506.8 114.6,508.1 114.6,509.6 114.7,511.0 114.8,512.5 114.9,514.0 114.9,515.9 115.0,517.6 115.1,518.5 115.2,519.9 115.2,522.1 115.3,523.3 115.4,524.7 115.5,526.1 115.5,527.8 115.6,529.5 115.7,530.7 115.8,532.2 115.8,533.4 115.9,535.6 116.0,536.4 116.1,538.3 116.1,540.0 116.2,541.1 116.3,543.0 116.4,544.6 116.5,545.9 116.6,547.5 116.7,548.6 116.8,550.3 116.9,551.6 117.0,553.7 117.1,554.8 117.2,556.4 117.3,558.3 117.4,559.7 117.5,561.4 117.6,562.5 117.7,564.0 117.8,565.7 117.9,567.1 118.0,568.5 118.1,570.1 118.2,571.4 118.3,573.1 118.4,575.0 118.5,576.5 118.6,577.8 118.7,579.2 118.8,580.6 118.9,582.0 119.0,583.6 119.1,585.5 119.2,587.1 119.3,588.3 119.4,590.1 119.5,591.6 119.6,593.1 119.7,594.5 119.8,596.1 119.9,597.4 120.1,599.1 120.2,600.3 120.3,602.0 120.4,603.7 120.6,605.2 120.7,606.4 120.9,608.4 121.1,609.7 121.2,611.2 121.4,612.3 121.5,614.2 121.7,615.5 121.9,617.3 122.0,618.7 122.2,620.5 122.4,621.9 122.5,623.5 122.7,624.7 122.8,626.4 123.0,628.0 123.2,629.6 123.3,630.8 123.5,632.7 123.7,634.2 123.8,635.6 124.0,637.3 124.1,638.8 124.3,640.0 124.5,641.5 124.6,642.8 124.8,644.8 124.9,646.4 125.1,647.6 125.2,649.3 125.4,650.8 125.5,652.3 125.7,653.4 125.8,655.4 126.0,656.8 126.1,658.3 126.3,659.7 126.4,661.4 126.6,663.0 126.7,664.4 126.9,666.0 127.0,667.0 127.2,668.6 127.3,670.3 128.0,671.9 128.7,672.8 129.4,674.6 130.0,675.9 130.7,676.6 131.4,678.5 132.1,679.7 132.7,681.1 133.4,682.7 134.1,684.4 134.8,685.8 135.4,687.4 135.9,686.3 138.6,686.9 139.5,688.3 140.4,690.0 141.3,691.5 142.6,690.0 143.9,689.9 145.3,687.4 146.6,686.8 147.8,688.1 149.0,689.8 150.2,691.3 150.7,693.3 151.1,694.6 151.6,696.0 152.0,698.0 152.5,699.3 152.9,701.3 153.5,702.6 154.1,704.3 154.7,706.1 155.3,707.5 155.9,708.7 156.5,710.4 157.4,711.8 158.3,712.9 159.2,714.1 160.1,716.1 161.0,717.5 162.8,718.0 164.6,716.8 165.9,714.9 167.3,712.7 169.1,713.1 170.9,711.2 171.5,712.6 172.2,714.5 172.9,716.0 173.5,717.2 174.4,718.9 175.3,720.6 176.2,721.3 177.1,722.7 178.0,724.0 178.9,725.7 179.8,728.1 180.7,729.0 182.1,731.4 183.4,732.7 184.8,731.3 186.1,729.8 187.0,729.3 187.9,727.3 188.8,725.8 189.7,724.4 190.9,724.2 192.1,722.2 193.3,720.8 194.5,719.5 195.7,717.4 196.9,716.6 198.2,714.6 199.6,712.7 202.2,712.5 202.5,714.1 202.8,715.0 203.0,716.9 203.3,718.2 203.5,720.1 203.8,721.5 204.0,722.7 204.5,724.3 204.9,725.8 205.4,728.1 205.8,729.2 206.3,731.1 206.7,732.6 207.6,734.3 208.5,735.6 209.4,737.3 210.3,737.9 211.2,740.0 212.3,740.7 213.4,742.2 214.4,743.1 215.5,744.2 216.6,745.8 217.9,746.6 219.3,747.3 220.6,748.9 222.0,749.4 224.2,748.4 226.5,749.4 228.0,748.8 229.4,749.0 230.9,747.6 231.8,749.1 232.7,750.2 233.6,752.6 234.8,753.4 235.9,754.7 237.0,756.1 238.1,757.0 239.9,757.5 241.7,758.8 243.5,757.8 245.3,757.7 247.1,758.1 248.4,758.3 249.8,759.6 251.1,761.7 252.5,761.8 253.8,763.9 255.2,764.7 256.5,765.2 257.8,766.1 259.6,766.7 261.4,766.6 263.2,764.9 265.0,766.0 266.8,767.0 268.6,767.6 269.7,768.8 270.8,770.0 271.8,772.1 272.9,773.8 274.0,774.4 275.1,775.4 276.1,777.5 277.2,778.5 278.3,779.4 279.4,779.6 281.2,781.3 283.0,782.5 284.8,782.6 286.5,782.3 288.3,781.2 289.7,783.3 291.0,783.0 292.4,784.9 293.7,786.0 295.1,787.1 296.4,787.1 297.8,788.5 299.1,790.5 300.9,790.1 302.7,791.8 304.5,792.3 306.3,792.3 308.1,794.1 309.9,794.0 311.2,794.4 312.6,795.6 313.9,795.6 315.2,796.7 316.7,797.9 318.1,798.7 319.6,799.5 321.0,798.3 322.4,799.5 323.9,799.8 325.3,801.0 326.7,801.4 328.2,803.0 329.6,802.5 331.0,802.1 332.5,804.1 333.9,803.4 335.3,805.0 336.8,805.3 338.6,806.8 340.4,806.5 342.2,807.2 343.9,807.2 345.7,807.8 347.5,807.4 349.3,808.8 351.1,808.5 352.9,808.4 354.7,809.4 356.5,810.5 358.1,812.1 359.6,811.8 361.2,813.8 362.8,814.4 364.3,812.9 365.9,813.9 367.5,812.2 369.1,812.4 370.9,813.2 372.6,812.5 374.4,814.1 376.2,813.3 378.0,812.7 379.8,813.6 381.6,811.6 383.4,812.7 385.2,811.9 387.0,812.6 388.8,814.9 390.6,814.5 392.4,814.1 394.2,814.3 396.0,816.7 397.8,816.2 399.5,817.2 401.2,816.5 402.7,817.5 404.3,817.1 405.8,817.1 407.4,817.6 408.9,818.5 410.4,818.1 412.0,818.6 413.5,818.3 415.0,820.3 416.6,820.2 418.1,821.0 419.7,820.5 421.2,821.9 422.7,821.5 424.3,821.9 425.8,822.0 427.3,822.6 428.9,822.0 430.4,821.5 432.0,821.6 433.5,822.5 435.3,821.7 437.1,823.6 438.9,822.5 440.7,823.1 442.5,821.7 444.0,822.5 445.5,823.7 447.0,823.2 448.4,823.0 449.9,823.3 451.4,823.1 452.9,822.9 454.4,823.1 455.9,823.8 457.4,824.0 458.9,825.4 460.4,824.2 462.2,824.2 464.0,824.4 465.8,824.3 467.6,824.7 469.4,825.1 470.9,825.1 472.4,823.9 473.9,825.8 475.4,824.2 476.8,825.4 478.3,824.4 480.1,824.4 481.9,823.8 483.7,824.9 485.5,822.8 487.3,823.8 489.1,823.2 490.9,824.2 492.7,824.5 494.5,823.2 496.3,823.8 498.1,822.4 499.9,822.3 501.7,821.8 503.5,822.5 505.2,824.3 507.0,823.4 508.8,823.9 510.4,824.3 511.9,824.1 513.4,825.4 515.0,825.7 516.5,824.6 518.1,825.0 519.6,826.1 521.1,827.0 522.7,826.4 524.2,825.9 525.7,827.3 527.3,825.1 528.8,825.3 530.4,827.0 531.9,826.2 533.4,825.4 535.0,826.7 536.5,827.8 538.0,826.7 539.6,826.4 541.1,826.3 542.8,825.8 544.4,827.8 546.0,826.9 547.6,828.0 549.3,825.9 550.9,826.4 552.5,826.0 554.2,826.8 555.8,826.1 557.4,826.6 559.1,827.1 560.6,826.7 562.2,826.2 563.8,826.2 565.4,828.4 567.0,826.6 568.6,827.4 570.1,827.2 571.7,827.5 573.3,826.5 574.9,827.0 576.5,826.6 578.1,827.7 579.6,828.6 581.2,827.9 582.8,828.5 584.4,827.0 586.0,827.7" fill="none" stroke="#77AC30" stroke-width="1.8" stroke-linejoin="round" stroke-linecap="butt"/>
<path d="M109.5,444.2 109.6,445.8 109.7,447.1 109.8,448.4 109.9,449.8 109.9,451.8 110.0,453.1 110.1,454.9 110.2,456.1 110.3,457.9 110.3,459.1 110.4,461.0 110.5,462.4 110.6,463.7 110.7,465.3 110.8,467.0 110.8,468.1 110.9,469.9 111.0,471.6 111.1,472.7 111.2,474.6 111.3,476.1 111.3,477.7 111.4,478.9 111.5,480.2 111.6,482.2 111.7,483.8 111.8,485.0 111.8,486.3 111.9,487.9 112.0,489.7 112.1,491.0 112.2,493.0 112.3,494.2 112.3,495.5 112.4,497.3 112.5,498.6 112.6,500.6 112.7,502.1 112.8,503.3 112.8,504.9 112.9,506.5 113.0,508.1 113.1,509.7 113.2,510.7 113.2,512.3 113.3,514.0 113.4,515.3 113.5,517.0 113.5,518.2 113.6,520.3 113.7,521.5 113.8,522.8 113.8,524.7 113.9,525.9 114.0,527.4 114.1,529.1 114.2,530.4 114.2,531.9 114.3,533.9 114.4,535.3 114.5,536.4 114.5,538.4 114.6,539.4 114.7,541.1 114.8,543.1 114.8,544.4 114.9,545.7 115.0,547.3 115.1,548.8 115.1,550.1 115.2,552.3 115.3,553.1 115.4,554.9 115.4,556.6 115.5,557.9 115.6,559.8 115.7,560.8 115.7,562.9 115.8,564.3 115.9,565.7 116.0,567.4 116.1,568.6 116.1,570.4 116.2,571.8 116.3,573.2 116.4,574.7 116.5,576.4 116.6,577.7 116.7,579.0 116.8,581.0 116.8,582.2 116.9,583.9 117.0,585.7 117.1,586.8 117.2,588.2 117.3,589.8 117.4,591.7 117.5,593.0 117.6,594.5 117.7,596.2 117.8,598.0 117.9,599.1 118.0,600.7 118.0,602.6 118.1,603.9 118.2,605.2 118.3,606.9 118.4,608.5 118.5,609.7 118.6,611.4 118.7,612.9 118.8,614.8 118.9,616.0 119.0,617.8 119.1,619.5 119.1,621.0 119.2,622.2 119.3,624.0 119.4,625.4 119.5,627.0 119.6,628.7 119.7,630.5 119.8,632.3 119.9,633.4 120.0,634.8 120.1,636.7 120.2,638.1 120.3,639.8 120.4,641.7 120.6,642.8 120.8,644.8 121.0,646.1 121.1,648.1 121.3,649.5 121.5,650.5 121.7,652.2 121.9,654.3 122.0,655.6 122.2,657.0 122.4,658.8 122.6,660.4 122.8,661.7 122.9,663.2 123.1,664.5 123.3,666.3 123.5,667.6 123.7,669.5 123.9,671.0 124.1,672.1 124.2,674.0 124.4,675.2 124.6,676.7 124.8,678.6 125.0,680.0 125.2,681.8 125.4,683.1 125.6,684.7 125.8,685.8 125.9,687.8 126.1,688.8 126.3,690.7 126.6,692.4 126.8,694.0 127.1,695.5 127.3,696.7 127.6,698.4 127.8,700.0 128.1,701.0 128.4,703.1 128.6,704.6 128.9,705.8 129.1,707.5 129.4,708.8 129.6,710.2 129.9,712.1 130.1,713.1 130.4,715.0 130.9,716.9 131.4,717.9 131.9,720.0 132.4,720.9 132.9,723.0 133.4,724.2 133.9,726.3 134.4,727.4 135.8,727.6 137.1,724.9 138.5,724.7 139.8,724.7 141.2,723.3 142.5,722.1 143.4,720.1 144.4,719.0 145.3,718.0 146.2,716.8 146.9,719.0 147.6,720.5 148.2,722.2 148.9,723.6 149.6,725.0 150.1,726.3 150.5,728.4 151.0,729.5 151.4,731.4 151.9,732.9 152.3,734.5 152.8,735.8 153.2,737.4 153.7,739.2 154.2,740.3 154.8,742.2 155.4,743.3 156.0,744.8 156.6,746.2 157.1,748.0 157.7,749.3 158.6,750.5 159.4,752.0 160.2,753.9 161.1,755.8 161.9,756.8 163.2,756.8 164.6,757.8 165.9,758.3 167.3,759.6 168.2,761.2 169.1,762.2 170.0,762.9 170.9,764.3 171.7,765.8 172.6,767.2 173.5,768.6 174.4,770.8 175.3,771.6 176.2,773.1 177.1,774.6 178.0,775.7 178.9,777.2 179.8,777.8 180.7,779.4 182.2,781.2 183.7,780.6 185.2,782.5 186.7,781.1 188.2,779.4 189.7,778.7 191.2,779.6 192.7,777.8 194.2,778.6 195.7,777.1 197.2,777.5 198.7,777.0 200.3,776.7 201.9,775.8 202.3,777.1 202.7,779.0 203.2,780.8 203.6,782.0 204.0,783.7 204.9,785.4 205.8,786.9 206.7,787.4 207.6,789.3 208.7,789.6 209.8,790.6 210.9,793.2 211.9,792.7 213.0,794.9 214.3,795.9 215.7,796.7 217.0,797.7 218.4,798.3 220.2,798.2 222.0,799.2 223.8,799.6 225.6,801.0 227.4,800.7 228.7,799.8 230.0,797.9 231.2,799.5 232.4,800.1 233.6,802.0 235.1,802.8 236.6,804.0 238.1,803.7 239.9,804.4 241.7,805.1 243.5,804.5 245.3,804.4 247.1,803.0 248.4,803.9 249.8,804.0 251.1,806.5 252.5,805.7 253.8,807.8 255.2,808.5 256.5,808.1 257.8,809.3 259.6,807.4 261.4,807.1 263.2,806.9 265.0,806.9 266.8,807.2 268.6,809.3 270.4,808.5 272.2,810.3 274.0,810.4 275.3,810.7 276.7,812.0 278.0,812.3 279.4,814.3 281.2,813.9 283.0,814.7 284.8,814.3 286.5,814.1 288.3,813.3 289.8,813.3 291.3,813.4 292.8,815.6 294.3,814.5 295.8,815.5 297.3,816.4 298.8,816.5 300.3,817.7 301.8,817.7 303.3,817.3 304.8,816.7 306.3,818.0 307.8,818.0 309.3,819.2 310.8,818.6 312.3,819.3 313.8,819.8 315.2,819.2 317.0,820.2 318.8,820.5 320.6,818.9 322.4,820.9 324.2,820.4 325.7,821.1 327.2,820.1 328.7,820.1 330.2,820.1 331.7,820.9 333.2,821.9 334.7,821.3 336.2,820.6 337.7,821.4 339.2,821.0 340.7,822.5 342.2,822.7 343.9,823.5 345.7,821.6 347.5,822.4 349.3,821.9 351.1,823.4 352.9,823.8 354.7,823.2 356.5,824.4 358.3,823.5 360.1,823.9 361.6,823.3 363.1,822.8 364.6,824.1 366.1,823.6 367.6,822.8 369.1,822.8 370.6,822.5 372.0,822.7 373.5,820.8 375.0,820.9 376.5,820.7 378.0,821.6 379.7,821.7 381.2,820.8 382.7,821.7 384.2,821.0 385.7,822.5 387.2,822.8 388.7,821.8 390.4,823.6 392.2,822.9 394.0,821.8 395.8,822.4 397.6,822.5 399.4,823.6 401.2,824.2 403.0,822.5 404.8,822.7 406.6,823.7 408.2,824.5 409.9,824.4 411.5,823.8 413.1,823.0 414.7,824.4 416.4,824.1 418.0,825.0 419.6,824.5 421.3,825.0 422.9,825.7 424.5,824.8 426.2,825.8 427.8,824.4 429.4,823.8 431.1,826.0 432.7,824.1 434.3,826.5 435.9,825.4 437.6,824.5 439.2,825.2 440.8,826.3 442.5,825.8 444.1,826.3 445.7,825.1 447.4,827.0 449.0,825.9 450.6,827.1 452.3,825.6 453.9,826.9 455.5,826.5 457.1,826.4 458.8,825.6 460.4,826.9 462.0,827.7 463.7,825.9 465.3,826.8 466.9,825.8 468.6,828.2 470.2,828.1 471.8,827.5 473.4,827.0 475.1,826.1 476.7,826.2 478.3,827.4 480.0,827.8 481.6,828.3 483.2,827.9 484.9,826.9 486.5,826.4 488.1,827.1 489.8,826.6 491.4,827.0 493.0,827.8 494.6,826.7 496.3,827.4 497.9,827.4 499.5,825.9 501.2,827.7 502.8,827.5 504.4,827.5 506.1,826.1 507.7,828.3 509.3,827.5 511.0,827.6 512.6,826.8 514.2,827.2 515.8,826.6 517.5,827.1 519.1,827.4 520.7,827.1 522.4,826.9 524.0,828.6 525.6,828.5 527.3,829.0 528.9,827.5 530.5,828.8 532.2,828.4 533.8,827.3 535.4,829.2 537.0,827.9 538.7,827.5 540.3,827.5 541.9,829.3 543.6,827.6 545.2,828.0 546.8,828.4 548.5,827.9 550.1,828.4 551.7,827.2 553.4,828.0 555.0,828.3 556.6,828.3 558.2,828.3 559.9,827.4 561.5,828.2 563.1,829.0 564.8,827.8 566.4,828.1 568.0,828.1 569.7,827.2 571.3,827.3 572.9,829.1 574.5,827.6 576.2,827.9 577.8,827.9 579.4,829.5 581.1,828.5 582.7,829.4 584.3,827.7 586.0,828.6" fill="none" stroke="#4DBEEE" stroke-width="1.8" stroke-linejoin="round" stroke-linecap="butt"/>
<path d="M109.5,498.7 109.6,500.0 109.7,501.9 109.8,503.1 109.8,504.9 109.9,506.4 110.0,507.7 110.1,509.5 110.1,510.7 110.2,512.6 110.3,513.9 110.4,515.4 110.4,517.2 110.5,519.0 110.6,520.1 110.7,521.7 110.8,523.5 110.8,525.3 110.9,526.6 111.0,528.0 111.1,529.9 111.1,531.0 111.2,532.9 111.3,534.0 111.4,535.4 111.4,536.9 111.5,538.5 111.6,540.4 111.7,541.4 111.7,543.2 111.8,544.7 111.9,546.0 112.0,547.7 112.0,548.8 112.1,550.3 112.2,551.9 112.3,553.8 112.3,555.1 112.4,556.5 112.5,558.2 112.6,559.6 112.6,561.0 112.7,562.9 112.8,564.3 112.9,565.5 112.9,567.2 113.0,568.7 113.1,570.4 113.2,571.7 113.2,573.0 113.3,575.1 113.3,576.0 113.4,577.7 113.5,579.5 113.5,580.6 113.6,582.4 113.7,583.6 113.7,585.6 113.8,587.2 113.8,588.6 113.9,590.3 114.0,591.5 114.0,593.3 114.1,594.7 114.1,596.3 114.2,597.7 114.3,599.5 114.3,601.1 114.4,602.3 114.5,604.0 114.5,605.1 114.6,607.1 114.6,608.6 114.7,610.4 114.8,611.8 114.8,612.9 114.9,614.5 114.9,616.3 115.0,617.3 115.1,619.2 115.1,620.5 115.2,622.1 115.2,623.5 115.3,625.6 115.3,626.7 115.3,628.3 115.4,629.9 115.4,631.8 115.4,632.8 115.5,634.6 115.5,636.2 115.5,638.0 115.6,639.5 115.6,641.1 115.6,642.2 115.7,643.9 115.7,645.4 115.7,647.3 115.8,648.9 115.8,650.0 115.9,651.4 116.1,653.0 116.2,654.6 116.4,656.3 116.5,657.9 116.7,659.2 116.8,660.6 116.9,662.5 117.1,664.0 117.2,665.7 117.4,667.5 117.5,668.8 117.7,670.3 117.8,671.9 117.9,673.5 118.1,674.6 118.2,676.6 118.4,678.2 118.5,679.8 118.7,681.3 118.9,682.6 119.0,684.2 119.2,685.5 119.3,687.5 119.5,688.6 119.6,690.2 119.8,691.8 119.9,693.3 120.1,695.0 120.3,696.5 120.7,697.8 121.1,699.4 121.6,700.8 122.0,702.4 122.4,703.6 122.9,705.7 123.3,706.9 123.6,708.2 124.0,709.8 124.3,711.5 124.6,713.0 125.0,714.4 125.3,716.5 125.7,718.2 126.0,719.4 126.3,721.0 126.7,722.3 127.0,723.9 127.3,725.6 127.7,727.1 128.0,729.1 128.4,730.2 128.7,731.7 129.0,733.9 129.4,735.2 130.4,736.0 131.4,738.0 132.4,739.1 132.8,740.9 133.1,742.8 133.4,744.3 133.8,745.7 134.1,747.0 134.5,748.7 134.8,750.2 135.6,749.3 136.3,747.6 137.0,746.4 137.8,744.5 138.5,743.1 139.8,742.5 141.2,741.4 142.5,739.4 143.3,738.2 144.0,736.8 144.7,735.3 145.4,733.3 146.2,732.2 147.4,733.5 148.6,735.0 148.9,736.4 149.3,738.2 149.6,739.7 150.0,741.6 150.3,743.4 150.6,744.6 151.0,746.5 151.3,748.1 151.6,749.5 152.2,750.8 152.7,752.2 153.2,753.7 153.7,755.2 154.2,756.7 154.7,758.6 155.2,760.3 155.7,761.7 156.5,763.2 157.4,765.1 158.5,766.6 159.6,766.5 160.8,768.6 161.9,769.8 163.2,771.1 164.6,772.1 165.9,772.7 167.3,773.7 168.2,775.6 169.1,776.2 170.0,778.1 170.9,779.6 171.7,780.1 172.6,781.5 173.5,783.6 174.4,784.8 175.3,785.5 176.2,787.1 177.1,788.3 178.0,790.7 178.9,792.0 179.8,792.6 180.7,794.9 182.2,796.3 183.7,796.3 185.2,796.5 186.4,795.8 187.6,794.0 188.8,793.1 190.6,795.7 192.4,796.1 194.2,795.8 196.0,795.8 197.8,794.0 199.6,793.1 200.9,794.6 202.2,795.3 202.9,796.8 203.6,798.4 204.3,799.9 204.9,801.8 206.1,802.4 207.2,803.8 208.3,804.4 209.4,806.6 210.8,806.5 212.1,807.4 213.5,808.4 214.8,809.3 216.6,809.1 218.4,810.7 220.2,810.2 222.0,810.7 223.8,810.6 225.6,809.3 227.4,810.3 229.1,810.0 230.5,810.0 231.8,812.5 233.2,811.9 234.5,813.3 236.0,814.3 237.4,814.4 238.8,814.4 240.3,815.3 241.7,815.8 243.5,816.2 245.3,814.5 247.1,815.4 248.9,814.9 250.7,815.1 252.5,816.7 254.3,816.5 256.1,817.0 257.8,817.8 259.6,818.4 261.4,817.5 263.2,818.0 265.0,818.2 266.8,818.6 268.6,819.4 270.4,819.2 271.9,819.7 273.4,819.9 274.9,821.4 276.4,821.2 277.9,822.0 279.4,822.0 280.9,821.0 282.4,821.9 283.9,822.9 285.4,822.8 286.8,821.3 288.3,821.9 290.1,822.2 291.9,821.3 293.7,821.7 295.5,821.3 297.3,822.5 298.8,823.2 300.3,823.7 301.8,822.1 303.3,823.7 304.8,823.8 306.3,823.2 307.8,824.7 309.3,825.1 310.8,823.5 312.3,825.4 313.8,824.2 315.2,824.6 316.9,825.9 318.5,825.6 320.1,824.0 321.8,824.8 323.4,825.0 325.0,824.7 326.7,824.4 328.3,824.8 329.9,825.8 331.6,824.2 333.2,825.4 334.8,825.3 336.4,824.3 338.1,825.1 339.7,825.9 341.3,825.7 343.0,824.6 344.6,826.9 346.2,826.5 347.9,827.0 349.5,824.9 351.1,825.6 352.8,824.8 354.4,826.5 356.0,825.2 357.6,824.8 359.3,825.5 360.9,826.6 362.5,826.3 364.2,824.9 365.8,824.6 367.4,826.4 369.1,825.5 370.7,826.2 372.5,824.8 374.3,824.6 376.1,826.0 377.9,825.3 379.7,824.9 381.3,826.4 382.9,825.6 384.6,826.0 386.2,824.3 387.8,826.1 389.5,824.1 391.1,826.0 392.7,825.0 394.4,824.7 396.0,825.2 397.6,825.5 399.1,824.6 400.6,824.4 402.1,825.5 403.6,825.0 405.1,824.8 406.6,825.1 408.1,825.0 409.6,825.5 411.1,825.9 412.6,826.1 414.1,827.3 415.6,826.6 417.2,826.9 418.8,826.2 420.5,826.7 422.1,826.0 423.7,826.6 425.3,826.1 427.0,827.9 428.6,827.6 430.2,826.8 431.9,827.6 433.5,828.2 435.1,826.8 436.8,828.6 438.4,827.7 440.0,827.9 441.7,828.8 443.3,827.8 444.9,828.1 446.5,828.6 448.2,829.3 449.8,827.8 451.4,828.6 453.1,828.8 454.7,828.6 456.3,828.1 458.0,828.0 459.6,827.3 461.2,827.6 462.8,827.4 464.5,829.1 466.1,828.0 467.7,827.8 469.4,828.1 471.0,829.4 472.6,829.4 474.3,828.9 475.9,828.0 477.5,827.8 479.2,827.9 480.8,828.3 482.4,827.5 484.0,828.2 485.7,827.7 487.3,828.8 488.9,829.3 490.6,828.3 492.2,827.5 493.8,829.2 495.5,827.5 497.1,827.6 498.7,826.7 500.4,827.6 502.0,827.8 503.6,827.8 505.2,827.4 506.9,827.8 508.5,826.7 510.1,827.4 511.8,827.1 513.4,827.9 515.0,827.1 516.7,827.1 518.3,827.9 519.9,827.8 521.6,828.7 523.2,828.6 524.8,829.2 526.4,829.1 528.1,829.2 529.7,829.6 531.3,828.5 533.0,828.4 534.6,830.0 536.2,828.0 537.9,829.4 539.5,829.3 541.1,828.4 542.8,829.8 544.4,830.0 546.0,829.4 547.6,829.7 549.3,830.0 550.9,828.4 552.5,829.4 554.2,829.4 555.8,830.2 557.4,830.2 559.1,829.9 560.6,829.7 562.2,830.5 563.8,830.0 565.4,830.1 567.0,829.0 568.6,828.6 570.1,828.8 571.7,829.4 573.3,828.8 574.9,830.6 576.5,830.0 578.1,830.2 579.6,830.2 581.2,830.4 582.8,830.0 584.4,828.8 586.0,830.0" fill="none" stroke="#A2142F" stroke-width="1.8" stroke-linejoin="round" stroke-linecap="butt"/>
<path d="M109.7,663.2 109.8,665.1 109.9,666.1 110.0,668.0 110.0,669.1 110.1,670.7 110.2,672.8 110.3,673.7 110.4,675.5 110.4,676.9 110.5,678.4 110.6,680.0 110.7,681.3 110.7,683.3 110.8,684.3 110.9,685.9 111.0,687.2 111.1,688.9 111.1,690.6 111.3,692.4 111.5,693.6 111.6,694.9 111.8,696.5 112.0,698.6 112.2,699.4 112.3,701.4 112.5,702.7 112.7,704.4 112.8,705.7 113.0,707.5 113.2,708.9 113.5,710.5 113.9,712.2 114.3,713.5 114.7,714.7 115.1,716.1 115.4,718.3 115.8,719.5 116.2,720.9 116.4,722.9 116.6,724.1 116.8,725.7 117.0,727.4 117.2,728.5 117.3,730.0 117.5,731.9 117.7,732.9 117.9,734.9 118.1,735.9 118.3,737.9 118.5,739.4 118.7,741.1 118.9,742.5 119.1,743.8 119.2,745.2 119.7,746.6 120.3,748.4 120.8,749.9 121.3,751.0 122.8,753.2 124.3,753.4 125.8,752.6 127.3,750.9 127.8,752.4 128.4,753.8 128.9,755.6 129.4,757.1 129.9,758.8 130.4,760.3 130.9,762.2 131.4,763.7 132.0,764.7 132.5,766.3 133.1,767.6 133.7,769.5 134.3,771.2 134.9,772.0 135.4,773.8 136.1,772.1 136.7,770.4 137.3,769.7 137.9,767.9 138.5,766.4 139.1,764.9 139.6,763.2 140.2,761.7 140.8,760.2 141.4,758.6 142.0,757.1 142.5,755.3 143.5,753.6 144.6,752.4 145.6,751.2 146.6,750.6 147.6,749.3 148.0,751.1 148.4,752.4 148.7,754.1 149.1,755.8 149.5,756.6 149.9,758.1 150.3,759.7 150.6,761.5 151.1,763.1 151.5,764.8 152.0,766.1 152.4,768.2 152.9,769.0 153.3,771.2 153.8,772.3 154.2,774.4 154.7,775.4 155.5,777.7 156.3,778.8 157.1,780.5 157.9,781.5 158.7,782.6 159.8,784.9 160.8,785.8 161.9,786.9 163.2,788.3 164.6,788.7 165.9,789.3 167.3,789.8 168.2,790.8 169.1,792.7 170.0,793.7 170.9,794.5 171.7,796.3 172.6,797.9 173.5,799.1 174.4,800.0 175.3,801.2 176.2,802.5 177.4,803.5 178.5,804.8 179.6,806.6 180.7,807.5 182.2,808.8 183.7,809.1 185.2,809.0 187.0,806.8 188.8,806.6 190.3,807.0 191.8,806.6 193.3,808.5 194.8,809.3 196.3,809.5 197.8,810.5 199.3,810.2 200.7,810.9 202.2,812.1 203.4,813.8 204.6,815.0 205.8,815.5 207.2,817.0 208.5,818.3 209.9,818.6 211.2,819.2 213.0,820.2 214.8,818.7 216.6,819.2 218.4,820.1 220.2,821.5 222.0,820.4 223.8,822.1 225.6,821.9 227.4,821.7 229.1,822.2 230.9,823.2 232.7,822.7 234.2,822.0 235.7,823.5 237.2,822.1 238.7,822.6 240.2,824.2 241.7,823.6 243.5,822.7 245.3,822.5 247.1,823.2 248.9,823.3 250.7,823.6 252.5,824.5 254.3,824.4 256.1,824.5 257.8,824.5 259.6,824.0 261.4,824.3 263.2,824.5 265.0,824.7 266.6,825.7 268.2,824.6 269.8,824.4 271.4,826.2 273.0,825.3 274.6,825.9 276.2,825.4 277.8,827.4 279.4,826.5 281.0,826.4 282.6,827.7 284.3,827.1 285.9,826.6 287.5,828.2 289.2,827.1 290.8,827.1 292.4,828.6 294.0,828.2 295.7,828.2 297.3,827.4 298.9,828.5 300.6,828.1 302.2,828.7 303.8,827.7 305.5,828.8 307.1,828.9 308.7,828.0 310.4,828.7 312.0,829.1 313.6,829.7 315.2,829.1 316.9,829.4 318.5,827.9 320.1,829.1 321.8,829.4 323.4,828.0 325.0,829.0 326.7,830.1 328.3,830.2 329.9,830.4 331.6,828.4 333.2,829.6 334.7,830.3 336.3,829.8 337.9,829.0 339.4,828.2 341.0,830.3 342.5,830.1 344.1,829.6 345.7,828.9 347.2,829.9 348.8,829.9 350.3,829.6 351.9,829.3 353.5,828.6 355.0,828.5 356.6,828.6 358.1,828.5 359.7,828.9 361.3,827.9 362.8,829.3 364.4,828.4 365.9,827.9 367.5,828.1 369.1,828.5 370.6,828.4 372.1,829.3 373.6,827.6 375.1,827.9 376.6,828.1 378.2,827.8 379.7,828.9 381.3,827.6 382.9,827.5 384.6,828.6 386.2,829.0 387.8,829.2 389.5,828.6 391.1,828.0 392.7,829.3 394.4,828.9 396.0,828.2 397.6,828.3 399.3,829.4 400.9,829.6 402.5,829.5 404.1,827.6 405.8,828.2 407.4,828.4 409.0,827.9 410.7,829.4 412.3,827.8 413.9,829.8 415.6,829.1 417.2,829.3 418.8,828.9 420.5,830.2 422.1,829.4 423.7,830.2 425.3,830.3 427.0,829.8 428.6,830.5 430.2,829.4 431.9,829.1 433.5,829.9 435.1,829.6 436.6,829.1 438.2,830.0 439.7,829.5 441.3,828.7 442.9,830.5 444.4,829.7 446.0,830.8 447.5,829.8 449.1,830.8 450.7,829.3 452.2,829.1 453.8,829.9 455.3,830.5 456.9,830.6 458.5,830.2 460.0,829.0 461.6,829.7 463.1,828.8 464.7,829.7 466.3,831.1 467.8,829.7 469.4,830.3 470.9,830.3 472.5,829.1 474.1,830.4 475.6,828.9 477.2,829.2 478.7,830.1 480.3,829.0 481.9,831.0 483.4,829.7 485.0,830.1 486.5,830.9 488.1,828.8 489.6,830.9 491.2,828.6 492.8,829.9 494.3,830.0 495.9,830.8 497.4,829.3 499.0,830.7 500.6,829.9 502.1,829.5 503.7,828.7 505.2,829.2 506.8,829.2 508.4,829.2 509.9,829.3 511.5,830.4 513.0,829.4 514.6,830.0 516.2,828.7 517.7,829.0 519.3,830.4 520.8,830.8 522.4,829.5 524.0,828.9 525.5,829.4 527.1,829.7 528.6,829.8 530.2,830.3 531.8,829.7 533.3,830.6 534.9,830.9 536.4,831.0 538.0,830.9 539.6,830.6 541.1,830.1 542.7,831.2 544.2,829.9 545.8,831.3 547.3,830.3 548.9,830.8 550.4,830.5 551.9,830.9 553.5,830.1 555.0,830.7 556.6,831.1 558.1,830.2 559.7,830.8 561.2,830.5 562.8,830.5 564.3,830.3 565.9,830.7 567.4,831.1 569.0,829.8 570.5,829.8 572.0,831.4 573.6,829.7 575.1,831.4 576.7,831.3 578.2,830.0 579.8,831.0 581.3,830.1 582.9,831.7 584.4,830.0 586.0,830.8" fill="none" stroke="#0072BD" stroke-width="1.8" stroke-linejoin="round" stroke-linecap="butt"/>
<path d="M109.7,784.8 109.8,786.3 109.8,787.8 109.8,789.9 109.9,790.9 109.9,792.9 110.0,794.8 110.0,795.9 110.0,797.8 110.1,799.5 110.1,800.8 110.4,799.2 110.6,797.6 110.9,795.7 111.1,794.0 111.5,795.2 111.9,796.8 112.3,798.2 112.7,800.0 113.0,801.8 113.4,803.1 113.8,804.8 114.2,805.9 115.7,806.1 117.2,804.9 117.6,806.4 118.0,808.2 118.4,809.8 118.8,811.1 119.2,812.4 119.6,814.0 120.4,812.4 121.1,811.1 121.8,810.3 122.6,808.2 123.3,807.2 123.7,805.8 124.0,803.6 124.4,802.2 124.8,800.7 125.2,798.8 125.5,797.5 125.9,796.1 126.4,794.1 126.9,793.0 127.4,791.1 127.9,789.9 128.4,791.8 128.9,792.9 129.4,794.4 129.9,796.1 130.4,798.0 131.9,798.0 133.4,799.8 134.1,802.0 134.8,804.3 135.6,802.5 136.3,801.1 137.0,799.9 137.8,797.9 138.5,797.0 139.1,795.1 139.6,793.9 140.2,792.6 140.8,790.2 141.4,789.1 142.0,787.5 142.5,785.7 143.0,784.2 143.4,783.3 143.8,781.8 144.3,779.8 144.7,778.7 145.1,777.5 145.6,775.5 146.6,774.3 147.6,772.5 148.0,774.2 148.5,776.0 148.9,777.5 149.3,779.2 149.8,780.3 150.2,782.1 150.6,783.9 151.1,785.4 151.5,786.9 152.0,788.5 152.4,790.4 152.9,791.7 153.3,792.9 153.8,795.0 154.2,796.3 154.7,797.9 155.7,799.1 156.7,800.9 157.7,802.3 158.7,803.9 158.3,802.7 159.8,803.1 161.3,805.5 162.8,805.7 164.3,807.8 165.8,808.8 167.3,809.2 168.4,810.6 169.5,810.9 170.6,812.8 171.7,813.3 173.1,814.0 174.4,816.5 175.8,816.5 177.1,817.7 178.5,819.5 179.8,819.4 181.2,820.9 182.5,821.1 184.3,822.8 186.1,822.1 187.9,822.7 189.7,824.1 191.5,821.9 193.3,822.8 195.1,824.5 196.9,824.8 198.5,822.5 200.1,822.0 201.1,823.1 202.1,824.6 203.1,826.0 204.6,827.8 206.1,827.4 207.6,828.2 209.4,829.0 211.2,828.2 213.0,828.3 214.8,829.6 216.3,830.0 217.9,828.5 219.4,829.4 220.9,830.0 222.5,830.1 224.0,829.2 225.6,830.0 227.2,828.8 228.8,830.2 230.5,830.4 232.1,830.7 233.7,829.9 235.3,829.0 237.0,829.0 238.6,830.2 240.2,829.5 241.9,830.6 243.5,829.9 245.1,831.1 246.8,829.8 248.4,829.3 250.0,829.8 251.7,830.5 253.3,830.7 254.9,830.4 256.5,829.9 258.2,830.7 259.8,831.8 261.4,830.8 263.1,831.9 264.7,829.7 266.3,832.1 268.0,831.9 269.6,831.1 271.2,831.1 272.8,831.2 274.5,832.1 276.1,830.2 277.7,831.6 279.4,831.4 280.9,830.8 282.4,831.8 283.9,831.8 285.4,830.3 287.0,831.8 288.5,831.2 290.0,831.3 291.6,831.7 293.1,830.3 294.7,831.6 296.2,831.1 297.8,832.3 299.4,830.8 300.9,832.2 302.5,832.0 304.0,831.8 305.6,832.4 307.2,830.4 308.7,831.8 310.3,831.9 311.8,832.1 313.4,831.4 315.0,830.6 316.5,831.0 318.1,832.0 319.6,831.0 321.2,830.7 322.8,831.4 324.3,831.7 325.9,831.9 327.4,830.7 329.0,832.5 330.6,831.5 332.1,832.6 333.7,830.7 335.2,833.0 336.8,832.2 338.4,833.1 339.9,833.1 341.5,832.8 343.0,831.1 344.6,831.7 346.2,831.4 347.7,832.7 349.3,831.3 350.8,831.4 352.4,831.2 354.0,831.2 355.5,833.2 357.1,833.3 358.6,831.9 360.2,832.8 361.7,832.2 363.3,832.2 364.8,831.9 366.3,832.5 367.9,831.5 369.4,831.6 370.9,832.2 372.4,831.4 374.0,832.0 375.5,833.2 377.0,831.0 378.5,831.2 380.1,832.8 381.6,831.0 383.1,831.5 384.6,832.9 386.2,832.3 387.7,831.4 389.2,831.0 390.8,831.5 392.3,831.6 393.8,832.8 395.3,833.2 396.9,832.7 398.4,833.0 399.9,833.0 401.4,832.9 403.0,833.0 404.5,833.1 406.0,831.0 407.5,831.5 409.1,831.4 410.6,832.2 412.1,831.9 413.7,831.6 415.2,832.7 416.7,831.7 418.2,831.2 419.8,831.4 421.3,831.8 422.8,832.2 424.3,832.0 425.9,831.7 427.4,831.1 428.9,831.6 430.4,831.4 432.0,831.1 433.5,831.9 435.0,831.1 436.6,832.4 438.1,832.3 439.6,831.0 441.1,832.2 442.7,831.5 444.2,831.8 445.7,832.2 447.2,832.6 448.8,832.9 450.3,832.6 451.8,831.3 453.3,832.1 454.9,831.7 456.4,830.9 457.9,832.2 459.4,832.0 461.0,833.0 462.5,831.7 464.0,832.9 465.6,832.2 467.1,831.2 468.6,832.7 470.1,831.7 471.7,832.3 473.2,831.2 474.7,831.1 476.2,833.3 477.8,831.2 479.3,831.5 480.8,831.5 482.3,831.4 483.9,833.1 485.4,833.5 486.9,832.7 488.5,832.1 490.0,833.3 491.5,832.4 493.0,831.6 494.6,832.9 496.1,832.1 497.6,831.9 499.1,832.1 500.7,832.2 502.2,831.8 503.7,832.8 505.2,833.0 506.8,832.7 508.3,831.4 509.8,833.0 511.3,831.4 512.9,832.5 514.4,833.4 515.9,832.9 517.4,833.5 519.0,833.1 520.5,831.9 522.0,831.6 523.5,832.4 525.0,832.9 526.6,831.8 528.1,832.0 529.6,833.0 531.1,832.1 532.7,832.7 534.2,832.5 535.7,833.4 537.2,831.3 538.8,831.7 540.3,833.1 541.8,832.8 543.3,831.4 544.8,831.5 546.4,831.7 547.9,832.5 549.4,833.3 550.9,831.7 552.5,831.6 554.0,832.8 555.5,832.1 557.0,833.2 558.6,833.5 560.1,833.4 561.6,832.8 563.1,832.3 564.6,831.2 566.2,833.0 567.7,832.0 569.2,832.2 570.7,832.6 572.3,833.4 573.8,832.4 575.3,833.2 576.8,833.4 578.3,831.2 579.9,831.9 581.4,833.2 582.9,832.9 584.4,833.3 586.0,832.2" fill="none" stroke="#D95319" stroke-width="1.8" stroke-linejoin="round" stroke-linecap="butt"/>
<path d="M110.1,395.8 110.2,397.7 110.3,399.7 110.3,401.8 110.4,403.9 110.4,405.8 110.5,407.8 110.6,409.9 110.6,411.9 110.7,414.0 110.8,415.9 110.8,417.9 110.9,420.0 111.0,421.8 111.0,424.1 111.1,425.9 111.2,427.9 111.2,430.0 111.3,431.9 111.4,434.0 111.4,436.1 111.5,437.9 111.5,440.1 111.6,442.0 111.7,444.1 111.8,446.1 111.9,448.1 112.0,450.1 112.1,452.0 112.2,454.1 112.2,456.3 112.3,458.2 112.4,460.2 112.5,462.4 112.6,464.3 112.7,466.5 112.8,468.3 112.9,470.3 112.9,472.5 113.0,474.3 113.1,476.5 113.2,478.5 113.3,480.7 113.4,482.7 113.5,484.6 113.6,486.4 113.7,488.5 113.7,490.6 113.8,492.8 113.9,494.6 114.0,496.7 114.1,498.6 114.2,500.7 114.3,502.6 114.4,504.8 114.6,506.8 114.7,508.8 114.9,511.0 115.0,512.8 115.1,514.9 115.3,516.9 115.4,519.0 115.5,521.1 115.7,523.0 115.8,525.1 115.9,527.2 116.1,529.0 116.2,531.2 116.3,533.2 116.5,535.3 116.6,537.2 116.7,539.2 116.9,541.1 117.0,543.2 117.1,545.2 117.3,547.2 117.4,549.3 117.6,551.3 117.7,553.4 117.8,555.5 118.0,557.6 118.1,559.6 118.2,561.5 118.4,563.6 118.6,565.5 118.8,567.5 119.0,569.6 119.2,571.7 119.4,573.5 119.6,575.6 119.8,577.7 120.1,579.8 120.3,581.7 120.5,583.8 120.7,585.8 120.9,587.7 121.1,590.0 121.3,592.0 121.5,594.0 121.7,595.9 121.9,598.0 122.1,599.9 122.3,602.0 122.5,604.1 122.8,606.1 123.0,608.4 123.2,610.4 123.5,612.3 123.7,614.6 124.0,616.6 124.2,618.6 124.5,620.7 124.7,623.0 125.0,625.0 125.2,627.2 125.5,629.6 125.7,631.5 126.0,633.7 126.2,636.0 126.5,638.1 126.7,640.2 127.5,642.2 128.3,644.4 129.0,646.1 129.8,648.4 131.5,650.0 133.2,651.9 135.9,653.7 137.2,651.7 138.6,650.1 142.2,649.2 144.8,649.0 146.6,647.0 148.4,645.0 151.1,647.3 152.0,649.9 152.9,652.1 153.8,654.6 154.7,656.8 155.6,659.2 156.5,661.1 157.4,663.5 158.1,665.4 158.8,667.5 159.6,669.5 160.3,671.5 161.0,673.5 162.8,675.0 164.6,677.1 168.2,677.4 171.7,676.4 172.9,677.9 174.1,679.8 175.3,681.3 176.5,683.5 177.7,685.8 178.9,687.9 179.8,689.4 180.7,691.5 181.6,693.2 182.5,694.9 184.7,697.2 186.3,695.8 187.9,694.1 189.1,692.3 190.3,690.6 191.5,688.7 192.7,686.7 193.9,684.6 195.1,682.3 196.9,679.9 198.7,677.8 200.4,676.7 202.2,675.8 203.1,677.9 204.0,679.6 204.9,681.5 205.6,683.8 206.3,686.1 207.0,688.3 207.6,690.5 208.5,692.6 209.4,694.7 210.3,696.7 211.2,698.5 212.6,699.9 213.9,701.7 215.2,703.0 216.6,704.7 218.4,706.3 220.2,708.1 222.0,709.4 225.6,709.8 228.3,707.7 230.9,704.8 232.3,707.0 233.6,709.3 235.0,711.2 236.3,713.1 238.1,714.0 239.9,715.4 241.7,714.4 243.5,712.9 245.3,711.6 247.1,709.9 250.7,710.2 252.5,711.3 254.3,712.7 256.5,713.6 258.7,714.7 261.0,713.8 263.2,713.7 265.9,713.2 268.6,712.5 270.4,714.3 272.2,715.6 273.7,717.1 275.2,718.7 276.7,720.1 278.9,721.6 281.2,723.2 283.9,722.7 286.5,721.7 289.2,720.5 291.9,720.0 294.2,720.7 296.4,722.0 298.7,723.4 300.9,725.4 302.7,727.0 304.5,728.2 306.3,729.7 309.0,728.9 311.7,728.9 313.9,730.7 316.1,732.6 318.4,734.5 320.6,736.1 323.0,736.9 325.4,737.6 327.8,738.1 329.6,739.5 331.4,740.1 333.2,741.7 335.0,743.2 336.8,744.6 338.6,745.6 341.3,746.4 343.9,748.0 346.6,748.5 349.3,748.6 351.1,750.0 352.9,750.8 354.7,751.5 356.5,753.5 358.3,755.1 359.5,756.8 360.7,758.4 361.9,760.4 363.7,762.6 365.5,764.4 369.1,765.3 371.7,764.6 374.4,764.6 377.1,765.4 379.8,765.4 382.2,765.9 384.5,767.3 386.9,768.6 388.7,769.4 390.4,771.2 392.2,771.9 394.0,773.3 396.3,774.7 398.5,775.8 400.8,776.1 403.0,777.6 404.5,779.1 406.0,780.4 407.5,781.7 409.0,782.8 410.5,784.1 412.0,785.3 414.7,786.5 417.4,787.6 419.1,788.8 420.9,790.8 422.7,792.1 424.5,793.4 426.3,794.4 428.7,795.1 431.1,796.3 433.5,797.0 435.7,798.0 438.0,799.1 440.2,799.7 442.5,800.7 444.7,801.5 447.0,802.9 449.2,803.1 451.4,804.5 453.7,805.2 455.9,805.8 458.2,806.6 460.4,806.9 462.2,808.3 464.0,808.7 465.8,809.7 467.6,810.7 469.4,811.8 471.6,811.8 473.9,812.5 476.1,813.4 478.3,813.2 480.6,814.0 482.8,813.9 485.1,814.8 487.3,815.1 489.6,815.5 491.8,815.3 494.0,815.8 496.3,816.6 498.5,816.4 500.8,816.8 503.0,817.7 505.2,817.4 507.5,818.1 509.7,818.5 512.0,818.6 514.2,819.7 516.5,820.0 518.7,820.8 520.9,821.2 523.2,820.9 525.4,821.5 527.7,821.5 529.9,821.7 532.2,822.5 534.4,822.2 536.6,823.0 538.9,823.0 541.1,823.6 543.4,823.3 545.6,823.9 547.8,823.5 550.1,823.4 552.3,824.2 554.6,823.9 556.8,824.9 559.1,824.9 561.3,825.6 563.5,825.2 565.8,825.8 568.0,826.0 570.3,825.9 572.5,826.3 574.8,826.0 577.0,825.8 579.2,826.2 581.5,826.6 583.7,826.5 586.0,826.8" fill="none" stroke="#000" stroke-width="6.3" stroke-linejoin="round" stroke-linecap="round"/>
</g>
<line x1="389.4" y1="61.5" x2="471.9" y2="61.5" stroke="#0072BD" stroke-width="2.2" stroke-linecap="butt"/>
<text x="478" y="74.9" font-family="'Liberation Sans',sans-serif" font-size="32.7" text-anchor="start" fill="#000" stroke="#000" stroke-width="0.3">t = 0 s</text>
<line x1="389.4" y1="105.1" x2="471.9" y2="105.1" stroke="#D95319" stroke-width="2.2" stroke-linecap="butt"/>
<text x="478" y="118.5" font-family="'Liberation Sans',sans-serif" font-size="32.7" text-anchor="start" fill="#000" stroke="#000" stroke-width="0.3">t = 12.5 s</text>
<line x1="389.4" y1="148.8" x2="471.9" y2="148.8" stroke="#EDB120" stroke-width="2.2" stroke-linecap="butt"/>
<text x="478" y="162.2" font-family="'Liberation Sans',sans-serif" font-size="32.7" text-anchor="start" fill="#000" stroke="#000" stroke-width="0.3">t = 25 s</text>
<line x1="389.4" y1="192.4" x2="471.9" y2="192.4" stroke="#7E2F8E" stroke-width="2.2" stroke-linecap="butt"/>
<text x="478" y="205.8" font-family="'Liberation Sans',sans-serif" font-size="32.7" text-anchor="start" fill="#000" stroke="#000" stroke-width="0.3">t = 37.4 s</text>
<line x1="389.4" y1="236" x2="471.9" y2="236" stroke="#77AC30" stroke-width="2.2" stroke-linecap="butt"/>
<text x="478" y="249.4" font-family="'Liberation Sans',sans-serif" font-size="32.7" text-anchor="start" fill="#000" stroke="#000" stroke-width="0.3">t = 49.9 s</text>
<line x1="389.4" y1="279.6" x2="471.9" y2="279.6" stroke="#4DBEEE" stroke-width="2.2" stroke-linecap="butt"/>
<text x="478" y="293" font-family="'Liberation Sans',sans-serif" font-size="32.7" text-anchor="start" fill="#000" stroke="#000" stroke-width="0.3">t = 62.4 s</text>
<line x1="389.4" y1="323.3" x2="471.9" y2="323.3" stroke="#A2142F" stroke-width="2.2" stroke-linecap="butt"/>
<text x="478" y="336.7" font-family="'Liberation Sans',sans-serif" font-size="32.7" text-anchor="start" fill="#000" stroke="#000" stroke-width="0.3">t = 74.9 s</text>
<line x1="389.4" y1="366.9" x2="471.9" y2="366.9" stroke="#0072BD" stroke-width="2.2" stroke-linecap="butt"/>
<text x="478" y="380.3" font-family="'Liberation Sans',sans-serif" font-size="32.7" text-anchor="start" fill="#000" stroke="#000" stroke-width="0.3">t = 87.3 s</text>
<line x1="389.4" y1="410.5" x2="471.9" y2="410.5" stroke="#D95319" stroke-width="2.2" stroke-linecap="butt"/>
<text x="478" y="423.9" font-family="'Liberation Sans',sans-serif" font-size="32.7" text-anchor="start" fill="#000" stroke="#000" stroke-width="0.3">t = 99.8 s</text>
<line x1="389.4" y1="453.9" x2="471.9" y2="453.9" stroke="#000" stroke-width="7.7" stroke-linecap="butt"/>
<text x="478" y="467.3" font-family="'Liberation Sans',sans-serif" font-size="32.7" text-anchor="start" fill="#000" stroke="#000" stroke-width="0.3">Mean</text>
<text x="118.6" y="214" font-family="'Liberation Sans',sans-serif" font-size="32.2" text-anchor="start" fill="#000" stroke="#000" stroke-width="0.3">E(R) = 13.28<tspan font-family="'DejaVu Serif','Liberation Serif',serif" font-style="italic" font-size="32.2" dx="1">μ</tspan><tspan dx="1">m</tspan></text>
<text x="121" y="255.7" font-family="'Liberation Sans',sans-serif" font-size="32.2" text-anchor="start" fill="#000" stroke="#000" stroke-width="0.3"><tspan font-family="'DejaVu Serif','Liberation Serif',serif" font-style="italic" font-size="25.1" dx="1.6">σ</tspan><tspan dx="1.4">(R) = 10.22</tspan><tspan font-family="'DejaVu Serif','Liberation Serif',serif" font-style="italic" font-size="32.2" dx="1">μ</tspan><tspan dx="1">m</tspan></text>
<text x="235.8" y="921.8" font-family="'Liberation Sans',sans-serif" font-size="41.7" text-anchor="start" fill="#000" stroke="#000" stroke-width="0.3">Radius (<tspan font-family="'DejaVu Serif','Liberation Serif',serif" font-style="italic" font-size="41.7" dx="1.3">μ</tspan><tspan dx="1.3">m)</tspan></text>
<text transform="translate(35.2,484.5) rotate(-90)" font-family="'Liberation Sans',sans-serif" font-size="41.5" fill="#000" stroke="#000" stroke-width="0.3">Intensity</text>
<text transform="translate(136.0,89.2) scale(0.9,1)" font-family="'DejaVu Sans','Liberation Sans',sans-serif" font-size="58.6" fill="#000" stroke="#000" stroke-width="0.7">a</text>
</g>
<g id="panel-b">
<line x1="796.7" y1="672.9" x2="1318.5" y2="672.9" stroke="#dcdcdc" stroke-width="1.8" stroke-linecap="butt"/>
<line x1="796.7" y1="511.5" x2="1318.5" y2="511.5" stroke="#dcdcdc" stroke-width="1.8" stroke-linecap="butt"/>
<line x1="796.7" y1="350.1" x2="1318.5" y2="350.1" stroke="#dcdcdc" stroke-width="1.8" stroke-linecap="butt"/>
<line x1="796.7" y1="188.7" x2="1318.5" y2="188.7" stroke="#dcdcdc" stroke-width="1.8" stroke-linecap="butt"/>
<line x1="796.7" y1="27.3" x2="1318.5" y2="27.3" stroke="#dcdcdc" stroke-width="1.8" stroke-linecap="butt"/>
<rect x="796.7" y="16.5" width="521.8" height="817.8" fill="none" stroke="#000" stroke-width="4.5"/>
<text x="786.3" y="846.5" font-family="'Liberation Sans',sans-serif" font-size="28.6" text-anchor="end" fill="#000" stroke="#000" stroke-width="0.3">0</text>
<line x1="796.7" y1="672.9" x2="807.7" y2="672.9" stroke="#000" stroke-width="4.5" stroke-linecap="butt"/>
<line x1="1318.5" y1="672.9" x2="1307.5" y2="672.9" stroke="#000" stroke-width="4.5" stroke-linecap="butt"/>
<text x="786.3" y="685.1" font-family="'Liberation Sans',sans-serif" font-size="28.6" text-anchor="end" fill="#000" stroke="#000" stroke-width="0.3">5</text>
<line x1="796.7" y1="511.5" x2="807.7" y2="511.5" stroke="#000" stroke-width="4.5" stroke-linecap="butt"/>
<line x1="1318.5" y1="511.5" x2="1307.5" y2="511.5" stroke="#000" stroke-width="4.5" stroke-linecap="butt"/>
<text x="786.3" y="523.7" font-family="'Liberation Sans',sans-serif" font-size="28.6" text-anchor="end" fill="#000" stroke="#000" stroke-width="0.3">10</text>
<line x1="796.7" y1="350.1" x2="807.7" y2="350.1" stroke="#000" stroke-width="4.5" stroke-linecap="butt"/>
<line x1="1318.5" y1="350.1" x2="1307.5" y2="350.1" stroke="#000" stroke-width="4.5" stroke-linecap="butt"/>
<text x="786.3" y="362.3" font-family="'Liberation Sans',sans-serif" font-size="28.6" text-anchor="end" fill="#000" stroke="#000" stroke-width="0.3">15</text>
<line x1="796.7" y1="188.7" x2="807.7" y2="188.7" stroke="#000" stroke-width="4.5" stroke-linecap="butt"/>
<line x1="1318.5" y1="188.7" x2="1307.5" y2="188.7" stroke="#000" stroke-width="4.5" stroke-linecap="butt"/>
<text x="786.3" y="200.9" font-family="'Liberation Sans',sans-serif" font-size="28.6" text-anchor="end" fill="#000" stroke="#000" stroke-width="0.3">20</text>
<line x1="796.7" y1="27.3" x2="807.7" y2="27.3" stroke="#000" stroke-width="4.5" stroke-linecap="butt"/>
<line x1="1318.5" y1="27.3" x2="1307.5" y2="27.3" stroke="#000" stroke-width="4.5" stroke-linecap="butt"/>
<text x="786.3" y="39.5" font-family="'Liberation Sans',sans-serif" font-size="28.6" text-anchor="end" fill="#000" stroke="#000" stroke-width="0.3">25</text>
<line x1="959.8" y1="834.3" x2="959.8" y2="823.9" stroke="#000" stroke-width="4.5" stroke-linecap="butt"/>
<line x1="959.8" y1="16.5" x2="959.8" y2="26.9" stroke="#000" stroke-width="4.5" stroke-linecap="butt"/>
<text transform="translate(990.8,858.8) rotate(-30)" font-family="'Liberation Sans',sans-serif" font-size="31.8" text-anchor="end" fill="#000" stroke="#000" stroke-width="0.35">GCaMP6s-CAAX</text>
<line x1="1155.5" y1="834.3" x2="1155.5" y2="823.9" stroke="#000" stroke-width="4.5" stroke-linecap="butt"/>
<line x1="1155.5" y1="16.5" x2="1155.5" y2="26.9" stroke="#000" stroke-width="4.5" stroke-linecap="butt"/>
<text transform="translate(1182.7,858.8) rotate(-30)" font-family="'Liberation Sans',sans-serif" font-size="31.8" text-anchor="end" fill="#000" stroke="#000" stroke-width="0.35">GCaMP6s</text>
<line x1="959.8" y1="182.6" x2="959.8" y2="394.9" stroke="#0000ff" stroke-width="2.6" stroke-linecap="butt"/>
<line x1="953.2" y1="182.6" x2="966.4" y2="182.6" stroke="#0000ff" stroke-width="2.2" stroke-linecap="butt"/>
<line x1="953.2" y1="394.9" x2="966.4" y2="394.9" stroke="#0000ff" stroke-width="2.2" stroke-linecap="butt"/>
<line x1="1155.6" y1="191.5" x2="1155.6" y2="467" stroke="#ff0000" stroke-width="2.6" stroke-linecap="butt"/>
<line x1="1149" y1="191.5" x2="1162.2" y2="191.5" stroke="#ff0000" stroke-width="2.2" stroke-linecap="butt"/>
<line x1="1149" y1="467" x2="1162.2" y2="467" stroke="#ff0000" stroke-width="2.2" stroke-linecap="butt"/>
<rect x="953.6" y="282.6" width="12.4" height="12.4" fill="#0000ff" stroke="#000" stroke-width="2.2"/>
<rect x="1149.4" y="323" width="12.4" height="12.4" fill="#ff0000" stroke="#000" stroke-width="2.2"/>
<circle cx="952.6" cy="16.7" r="4.75" fill="#4dff4d" stroke="#000" stroke-width="1.3"/>
<circle cx="933.6" cy="181.1" r="4.75" fill="#4dff4d" stroke="#000" stroke-width="1.3"/>
<circle cx="948.7" cy="218.6" r="4.75" fill="#4dff4d" stroke="#000" stroke-width="1.3"/>
<circle cx="992.1" cy="228.8" r="4.75" fill="#4dff4d" stroke="#000" stroke-width="1.3"/>
<circle cx="982.4" cy="233.9" r="4.75" fill="#4dff4d" stroke="#000" stroke-width="1.3"/>
<circle cx="936.1" cy="255.6" r="4.75" fill="#4dff4d" stroke="#000" stroke-width="1.3"/>
<circle cx="981.5" cy="252.5" r="4.75" fill="#4dff4d" stroke="#000" stroke-width="1.3"/>
<circle cx="957.8" cy="273.5" r="4.75" fill="#4dff4d" stroke="#000" stroke-width="1.3"/>
<circle cx="967" cy="288.7" r="4.75" fill="#4dff4d" stroke="#000" stroke-width="1.3"/>
<circle cx="956.1" cy="343.5" r="4.75" fill="#4dff4d" stroke="#000" stroke-width="1.3"/>
<circle cx="946.5" cy="350.4" r="4.75" fill="#4dff4d" stroke="#000" stroke-width="1.3"/>
<circle cx="933.5" cy="367.8" r="4.75" fill="#4dff4d" stroke="#000" stroke-width="1.3"/>
<circle cx="931.1" cy="366.8" r="4.75" fill="#4dff4d" stroke="#000" stroke-width="1.3"/>
<circle cx="988.2" cy="378.6" r="4.75" fill="#4dff4d" stroke="#000" stroke-width="1.3"/>
<circle cx="970.6" cy="405.3" r="4.75" fill="#4dff4d" stroke="#000" stroke-width="1.3"/>
<circle cx="944" cy="458.1" r="4.75" fill="#4dff4d" stroke="#000" stroke-width="1.3"/>
<circle cx="1165.7" cy="70.3" r="4.75" fill="#ffff4d" stroke="#000" stroke-width="1.3"/>
<circle cx="1187.4" cy="114.1" r="4.75" fill="#ffff4d" stroke="#000" stroke-width="1.3"/>
<circle cx="1141.2" cy="137.6" r="4.75" fill="#ffff4d" stroke="#000" stroke-width="1.3"/>
<circle cx="1134.9" cy="179.9" r="4.75" fill="#ffff4d" stroke="#000" stroke-width="1.3"/>
<circle cx="1143.1" cy="185.4" r="4.75" fill="#ffff4d" stroke="#000" stroke-width="1.3"/>
<circle cx="1183.7" cy="187" r="4.75" fill="#ffff4d" stroke="#000" stroke-width="1.3"/>
<circle cx="1181.9" cy="204.3" r="4.75" fill="#ffff4d" stroke="#000" stroke-width="1.3"/>
<circle cx="1139.9" cy="272.8" r="4.75" fill="#ffff4d" stroke="#000" stroke-width="1.3"/>
<circle cx="1146.2" cy="342.9" r="4.75" fill="#ffff4d" stroke="#000" stroke-width="1.3"/>
<circle cx="1130.4" cy="358" r="4.75" fill="#ffff4d" stroke="#000" stroke-width="1.3"/>
<circle cx="1152.6" cy="360.1" r="4.75" fill="#ffff4d" stroke="#000" stroke-width="1.3"/>
<circle cx="1141.7" cy="379.3" r="4.75" fill="#ffff4d" stroke="#000" stroke-width="1.3"/>
<circle cx="1137.4" cy="388.8" r="4.75" fill="#ffff4d" stroke="#000" stroke-width="1.3"/>
<circle cx="1176.9" cy="391.7" r="4.75" fill="#ffff4d" stroke="#000" stroke-width="1.3"/>
<circle cx="1134.7" cy="408.4" r="4.75" fill="#ffff4d" stroke="#000" stroke-width="1.3"/>
<circle cx="1173.8" cy="417.9" r="4.75" fill="#ffff4d" stroke="#000" stroke-width="1.3"/>
<circle cx="1135.8" cy="423.6" r="4.75" fill="#ffff4d" stroke="#000" stroke-width="1.3"/>
<circle cx="1164.1" cy="427.4" r="4.75" fill="#ffff4d" stroke="#000" stroke-width="1.3"/>
<circle cx="1168.1" cy="449.5" r="4.75" fill="#ffff4d" stroke="#000" stroke-width="1.3"/>
<circle cx="1149.6" cy="462.2" r="4.75" fill="#ffff4d" stroke="#000" stroke-width="1.3"/>
<circle cx="1179.3" cy="530.4" r="4.75" fill="#ffff4d" stroke="#000" stroke-width="1.3"/>
<circle cx="1163.9" cy="550.5" r="4.75" fill="#ffff4d" stroke="#000" stroke-width="1.3"/>
<text x="848.2" y="584.9" font-family="'Liberation Sans',sans-serif" font-size="32.2" text-anchor="start" fill="#0000ff" stroke="#0000ff" stroke-width="0.3">&lt;E(R)&gt; = 16.89<tspan dx="-0.6" font-family="'DejaVu Sans',sans-serif" font-size="29.9">±</tspan><tspan dx="-0.6">3.29 </tspan><tspan font-family="'DejaVu Serif','Liberation Serif',serif" font-style="italic" font-size="32.2" dx="1">μ</tspan><tspan dx="1">m</tspan></text>
<text x="848.2" y="626" font-family="'Liberation Sans',sans-serif" font-size="32.2" text-anchor="start" fill="#0000ff" stroke="#0000ff" stroke-width="0.3">(GCaMP6s-CAAX)</text>
<text x="848.2" y="709.1" font-family="'Liberation Sans',sans-serif" font-size="32.2" text-anchor="start" fill="#ff0000" stroke="#ff0000" stroke-width="0.3">&lt;E(R)&gt; = 15.64<tspan dx="-0.6" font-family="'DejaVu Sans',sans-serif" font-size="29.9">±</tspan><tspan dx="-0.6">4.27 </tspan><tspan font-family="'DejaVu Serif','Liberation Serif',serif" font-style="italic" font-size="32.2" dx="1">μ</tspan><tspan dx="1">m</tspan></text>
<text x="848.2" y="749.3" font-family="'Liberation Sans',sans-serif" font-size="32.2" text-anchor="start" fill="#ff0000" stroke="#ff0000" stroke-width="0.3">(GCaMP6s)</text>
<text transform="translate(738.6,488.6) rotate(-90)" font-family="'Liberation Sans',sans-serif" font-size="41.5" fill="#000" stroke="#000" stroke-width="0.3">E(R) <tspan font-family="'DejaVu Serif','Liberation Serif',serif" font-style="italic" font-size="41.5" dx="1.2">μ</tspan><tspan dx="1.2">m</tspan></text>
<text x="827.5" y="89.2" font-family="'DejaVu Sans','Liberation Sans',sans-serif" font-size="58.6" text-anchor="start" fill="#000" stroke="#000" stroke-width="0.7">b</text>
</g>
<g id="panel-c">
<line x1="1485.2" y1="710.4" x2="2008.1" y2="710.4" stroke="#dcdcdc" stroke-width="1.8" stroke-linecap="butt"/>
<line x1="1485.2" y1="586.6" x2="2008.1" y2="586.6" stroke="#dcdcdc" stroke-width="1.8" stroke-linecap="butt"/>
<line x1="1485.2" y1="462.7" x2="2008.1" y2="462.7" stroke="#dcdcdc" stroke-width="1.8" stroke-linecap="butt"/>
<line x1="1485.2" y1="338.9" x2="2008.1" y2="338.9" stroke="#dcdcdc" stroke-width="1.8" stroke-linecap="butt"/>
<line x1="1485.2" y1="215" x2="2008.1" y2="215" stroke="#dcdcdc" stroke-width="1.8" stroke-linecap="butt"/>
<line x1="1485.2" y1="91.1" x2="2008.1" y2="91.1" stroke="#dcdcdc" stroke-width="1.8" stroke-linecap="butt"/>
<rect x="1485.2" y="16.5" width="522.9" height="817.8" fill="none" stroke="#000" stroke-width="4.5"/>
<text x="1474" y="846.5" font-family="'Liberation Sans',sans-serif" font-size="28.6" text-anchor="end" fill="#000" stroke="#000" stroke-width="0.3">0</text>
<line x1="1485.2" y1="710.4" x2="1496.2" y2="710.4" stroke="#000" stroke-width="4.5" stroke-linecap="butt"/>
<line x1="2008.1" y1="710.4" x2="1997.1" y2="710.4" stroke="#000" stroke-width="4.5" stroke-linecap="butt"/>
<text x="1474" y="722.6" font-family="'Liberation Sans',sans-serif" font-size="28.6" text-anchor="end" fill="#000" stroke="#000" stroke-width="0.3">2</text>
<line x1="1485.2" y1="586.6" x2="1496.2" y2="586.6" stroke="#000" stroke-width="4.5" stroke-linecap="butt"/>
<line x1="2008.1" y1="586.6" x2="1997.1" y2="586.6" stroke="#000" stroke-width="4.5" stroke-linecap="butt"/>
<text x="1474" y="598.8" font-family="'Liberation Sans',sans-serif" font-size="28.6" text-anchor="end" fill="#000" stroke="#000" stroke-width="0.3">4</text>
<line x1="1485.2" y1="462.7" x2="1496.2" y2="462.7" stroke="#000" stroke-width="4.5" stroke-linecap="butt"/>
<line x1="2008.1" y1="462.7" x2="1997.1" y2="462.7" stroke="#000" stroke-width="4.5" stroke-linecap="butt"/>
<text x="1474" y="474.9" font-family="'Liberation Sans',sans-serif" font-size="28.6" text-anchor="end" fill="#000" stroke="#000" stroke-width="0.3">6</text>
<line x1="1485.2" y1="338.9" x2="1496.2" y2="338.9" stroke="#000" stroke-width="4.5" stroke-linecap="butt"/>
<line x1="2008.1" y1="338.9" x2="1997.1" y2="338.9" stroke="#000" stroke-width="4.5" stroke-linecap="butt"/>
<text x="1474" y="351.1" font-family="'Liberation Sans',sans-serif" font-size="28.6" text-anchor="end" fill="#000" stroke="#000" stroke-width="0.3">8</text>
<line x1="1485.2" y1="215" x2="1496.2" y2="215" stroke="#000" stroke-width="4.5" stroke-linecap="butt"/>
<line x1="2008.1" y1="215" x2="1997.1" y2="215" stroke="#000" stroke-width="4.5" stroke-linecap="butt"/>
<text x="1474" y="227.2" font-family="'Liberation Sans',sans-serif" font-size="28.6" text-anchor="end" fill="#000" stroke="#000" stroke-width="0.3">10</text>
<line x1="1485.2" y1="91.1" x2="1496.2" y2="91.1" stroke="#000" stroke-width="4.5" stroke-linecap="butt"/>
<line x1="2008.1" y1="91.1" x2="1997.1" y2="91.1" stroke="#000" stroke-width="4.5" stroke-linecap="butt"/>
<text x="1474" y="103.3" font-family="'Liberation Sans',sans-serif" font-size="28.6" text-anchor="end" fill="#000" stroke="#000" stroke-width="0.3">12</text>
<line x1="1648.2" y1="834.3" x2="1648.2" y2="823.9" stroke="#000" stroke-width="4.5" stroke-linecap="butt"/>
<line x1="1648.2" y1="16.5" x2="1648.2" y2="26.9" stroke="#000" stroke-width="4.5" stroke-linecap="butt"/>
<text transform="translate(1694.5,858.8) rotate(-30)" font-family="'Liberation Sans',sans-serif" font-size="31.8" text-anchor="end" fill="#000" stroke="#000" stroke-width="0.35">GCaMP6s-CAAX</text>
<line x1="1844.1" y1="834.3" x2="1844.1" y2="823.9" stroke="#000" stroke-width="4.5" stroke-linecap="butt"/>
<line x1="1844.1" y1="16.5" x2="1844.1" y2="26.9" stroke="#000" stroke-width="4.5" stroke-linecap="butt"/>
<text transform="translate(1886.6,858.8) rotate(-30)" font-family="'Liberation Sans',sans-serif" font-size="31.8" text-anchor="end" fill="#000" stroke="#000" stroke-width="0.35">GCaMP6s</text>
<line x1="1648.2" y1="89.3" x2="1648.2" y2="294.2" stroke="#0000ff" stroke-width="2.6" stroke-linecap="butt"/>
<line x1="1641.6" y1="89.3" x2="1654.8" y2="89.3" stroke="#0000ff" stroke-width="2.2" stroke-linecap="butt"/>
<line x1="1641.6" y1="294.2" x2="1654.8" y2="294.2" stroke="#0000ff" stroke-width="2.2" stroke-linecap="butt"/>
<line x1="1844.2" y1="108.5" x2="1844.2" y2="312.5" stroke="#ff0000" stroke-width="2.6" stroke-linecap="butt"/>
<line x1="1837.6" y1="108.5" x2="1850.8" y2="108.5" stroke="#ff0000" stroke-width="2.2" stroke-linecap="butt"/>
<line x1="1837.6" y1="312.5" x2="1850.8" y2="312.5" stroke="#ff0000" stroke-width="2.2" stroke-linecap="butt"/>
<rect x="1642" y="185.6" width="12.4" height="12.4" fill="#0000ff" stroke="#000" stroke-width="2.2"/>
<rect x="1838.1" y="204.2" width="12.4" height="12.4" fill="#ff0000" stroke="#000" stroke-width="2.2"/>
<circle cx="1641" cy="28.5" r="4.75" fill="#4dff4d" stroke="#000" stroke-width="1.3"/>
<circle cx="1628.8" cy="34.6" r="4.75" fill="#4dff4d" stroke="#000" stroke-width="1.3"/>
<circle cx="1672.4" cy="48.1" r="4.75" fill="#4dff4d" stroke="#000" stroke-width="1.3"/>
<circle cx="1630.4" cy="69.1" r="4.75" fill="#4dff4d" stroke="#000" stroke-width="1.3"/>
<circle cx="1679.8" cy="156.2" r="4.75" fill="#4dff4d" stroke="#000" stroke-width="1.3"/>
<circle cx="1616.6" cy="201.3" r="4.75" fill="#4dff4d" stroke="#000" stroke-width="1.3"/>
<circle cx="1632.8" cy="202.2" r="4.75" fill="#4dff4d" stroke="#000" stroke-width="1.3"/>
<circle cx="1645.7" cy="204.2" r="4.75" fill="#4dff4d" stroke="#000" stroke-width="1.3"/>
<circle cx="1666.1" cy="207.4" r="4.75" fill="#4dff4d" stroke="#000" stroke-width="1.3"/>
<circle cx="1679.8" cy="221.2" r="4.75" fill="#4dff4d" stroke="#000" stroke-width="1.3"/>
<circle cx="1658.8" cy="229.3" r="4.75" fill="#4dff4d" stroke="#000" stroke-width="1.3"/>
<circle cx="1636" cy="242.6" r="4.75" fill="#4dff4d" stroke="#000" stroke-width="1.3"/>
<circle cx="1622.7" cy="262.6" r="4.75" fill="#4dff4d" stroke="#000" stroke-width="1.3"/>
<circle cx="1635.5" cy="267.5" r="4.75" fill="#4dff4d" stroke="#000" stroke-width="1.3"/>
<circle cx="1650.9" cy="300.9" r="4.75" fill="#4dff4d" stroke="#000" stroke-width="1.3"/>
<circle cx="1655.9" cy="393.6" r="4.75" fill="#4dff4d" stroke="#000" stroke-width="1.3"/>
<circle cx="1873.1" cy="16.7" r="4.75" fill="#ffff4d" stroke="#000" stroke-width="1.3"/>
<circle cx="1850.7" cy="53.6" r="4.75" fill="#ffff4d" stroke="#000" stroke-width="1.3"/>
<circle cx="1813.4" cy="83.6" r="4.75" fill="#ffff4d" stroke="#000" stroke-width="1.3"/>
<circle cx="1819" cy="124.1" r="4.75" fill="#ffff4d" stroke="#000" stroke-width="1.3"/>
<circle cx="1850.9" cy="121.4" r="4.75" fill="#ffff4d" stroke="#000" stroke-width="1.3"/>
<circle cx="1857.4" cy="133.3" r="4.75" fill="#ffff4d" stroke="#000" stroke-width="1.3"/>
<circle cx="1816.8" cy="162.9" r="4.75" fill="#ffff4d" stroke="#000" stroke-width="1.3"/>
<circle cx="1817.5" cy="195.4" r="4.75" fill="#ffff4d" stroke="#000" stroke-width="1.3"/>
<circle cx="1814.8" cy="203.6" r="4.75" fill="#ffff4d" stroke="#000" stroke-width="1.3"/>
<circle cx="1850.9" cy="200" r="4.75" fill="#ffff4d" stroke="#000" stroke-width="1.3"/>
<circle cx="1846.2" cy="202" r="4.75" fill="#ffff4d" stroke="#000" stroke-width="1.3"/>
<circle cx="1841.2" cy="213.1" r="4.75" fill="#ffff4d" stroke="#000" stroke-width="1.3"/>
<circle cx="1816.5" cy="225.5" r="4.75" fill="#ffff4d" stroke="#000" stroke-width="1.3"/>
<circle cx="1817.5" cy="218.7" r="4.75" fill="#ffff4d" stroke="#000" stroke-width="1.3"/>
<circle cx="1860.4" cy="243.8" r="4.75" fill="#ffff4d" stroke="#000" stroke-width="1.3"/>
<circle cx="1833.5" cy="255.1" r="4.75" fill="#ffff4d" stroke="#000" stroke-width="1.3"/>
<circle cx="1870.1" cy="260.7" r="4.75" fill="#ffff4d" stroke="#000" stroke-width="1.3"/>
<circle cx="1864.7" cy="266.2" r="4.75" fill="#ffff4d" stroke="#000" stroke-width="1.3"/>
<circle cx="1832.4" cy="283.5" r="4.75" fill="#ffff4d" stroke="#000" stroke-width="1.3"/>
<circle cx="1823.6" cy="353.1" r="4.75" fill="#ffff4d" stroke="#000" stroke-width="1.3"/>
<circle cx="1875.8" cy="354.3" r="4.75" fill="#ffff4d" stroke="#000" stroke-width="1.3"/>
<circle cx="1868.7" cy="457.3" r="4.75" fill="#ffff4d" stroke="#000" stroke-width="1.3"/>
<text x="1536.6" y="585.6" font-family="'Liberation Sans',sans-serif" font-size="33" text-anchor="start" fill="#0000ff" stroke="#0000ff" stroke-width="0.3">&lt;<tspan font-family="'DejaVu Serif','Liberation Serif',serif" font-style="italic" font-size="25.7" dx="1.7">σ</tspan><tspan dx="1.5">(R)&gt; = 10.38</tspan><tspan dx="-0.6" font-family="'DejaVu Sans',sans-serif" font-size="29.9">±</tspan><tspan dx="-0.6">1.65 </tspan><tspan font-family="'DejaVu Serif','Liberation Serif',serif" font-style="italic" font-size="33" dx="1">μ</tspan><tspan dx="1">m</tspan></text>
<text x="1536.6" y="628.8" font-family="'Liberation Sans',sans-serif" font-size="33" text-anchor="start" fill="#0000ff" stroke="#0000ff" stroke-width="0.3">(GCaMP6s-CAAX)</text>
<text x="1536.6" y="707.4" font-family="'Liberation Sans',sans-serif" font-size="31.3" text-anchor="start" fill="#ff0000" stroke="#ff0000" stroke-width="0.3">&lt;<tspan font-family="'DejaVu Serif','Liberation Serif',serif" font-style="italic" font-size="24.4" dx="1.6">σ</tspan><tspan dx="1.4">(R)&gt; = 10.08</tspan><tspan dx="-0.6" font-family="'DejaVu Sans',sans-serif" font-size="29.9">±</tspan><tspan dx="-0.6">1.65 </tspan><tspan font-family="'DejaVu Serif','Liberation Serif',serif" font-style="italic" font-size="31.3" dx="0.9">μ</tspan><tspan dx="0.9">m</tspan></text>
<text x="1536.6" y="747.6" font-family="'Liberation Sans',sans-serif" font-size="31.3" text-anchor="start" fill="#ff0000" stroke="#ff0000" stroke-width="0.3">(GCaMP6s)</text>
<text transform="translate(1426.8,492.8) rotate(-90)" font-family="'Liberation Sans',sans-serif" font-size="41.5" fill="#000" stroke="#000" stroke-width="0.3"><tspan font-family="'DejaVu Serif','Liberation Serif',serif" font-style="italic" font-size="32.4" dx="2.1">σ</tspan><tspan dx="1.9">(R), </tspan><tspan font-family="'DejaVu Serif','Liberation Serif',serif" font-style="italic" font-size="41.5" dx="-3">μ</tspan><tspan dx="-3.6">m</tspan></text>
<text x="1508" y="89.2" font-family="'DejaVu Sans','Liberation Sans',sans-serif" font-size="57.1" text-anchor="start" fill="#000" stroke="#000" stroke-width="0.4">c</text>
</g>
</svg></body></html>
